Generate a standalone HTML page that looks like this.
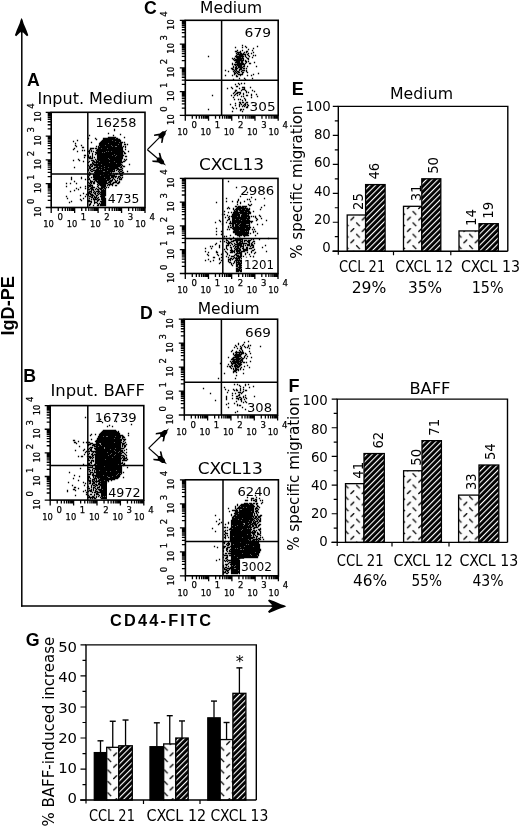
<!DOCTYPE html><html><head><meta charset="utf-8"><style>html,body{margin:0;padding:0;background:#fff;}svg{display:block;}</style></head><body><svg width="520" height="829" viewBox="0 0 520 829">
<defs>
<pattern id="hat" patternUnits="userSpaceOnUse" width="4" height="4" patternTransform="rotate(45)">
<rect width="4" height="4" fill="#000"/><rect x="0" y="0" width="1.1" height="4" fill="#fff"/></pattern>
<pattern id="dsh" patternUnits="userSpaceOnUse" width="11.3" height="11.4">
<rect width="11.3" height="11.4" fill="#fbfbfb"/>
<path d="M0.3 3.8L3.9 0.2M5.9 5.9L9.5 9.6" stroke="#000" stroke-width="1.3" fill="none"/></pattern>
</defs>
<rect width="520" height="829" fill="#fff"/>
<line x1="21.80" y1="30.00" x2="21.80" y2="606.70" stroke="#000" stroke-width="1.5"/>
<line x1="21.10" y1="606.00" x2="276.00" y2="606.00" stroke="#000" stroke-width="1.6"/>
<path d="M21.6 18.0 L22.6 20.1 L23.6 23.5 L25.0 26.8 L26.5 30.2 L28.3 35.2 L27.0 36.3 L22.4 31.8 L22.4 33.0 L20.8 33.0 L20.8 31.8 L16.2 36.3 L14.9 35.2 L16.7 30.2 L18.2 26.8 L19.6 23.5 L20.6 20.1Z" fill="#000"/>
<path d="M286.3 606.2 L284.2 607.2 L280.8 608.2 L277.5 609.6 L274.1 611.1 L269.1 612.9 L268.0 611.6 L272.5 607.0 L271.3 607.0 L271.3 605.4 L272.5 605.4 L268.0 600.8 L269.1 599.5 L274.1 601.3 L277.5 602.8 L280.8 604.2 L284.2 605.2Z" fill="#000"/>
<text transform="translate(13.80,335.60) rotate(-90)" font-size="18" font-family="'Liberation Sans', sans-serif" text-anchor="start" font-weight="bold" textLength="59.5" lengthAdjust="spacingAndGlyphs">IgD-PE</text>
<text x="110.00" y="626.10" font-size="16.3" font-family="'Liberation Sans', sans-serif" text-anchor="start" font-weight="bold" textLength="101" lengthAdjust="spacing">CD44-FITC</text>
<text x="27.10" y="86.40" font-size="17.7" font-family="'Liberation Sans', 'DejaVu Sans', sans-serif" text-anchor="start" font-weight="bold">A</text>
<text x="23.30" y="382.20" font-size="17.7" font-family="'Liberation Sans', 'DejaVu Sans', sans-serif" text-anchor="start" font-weight="bold">B</text>
<text x="144.00" y="14.30" font-size="17.7" font-family="'Liberation Sans', 'DejaVu Sans', sans-serif" text-anchor="start" font-weight="bold">C</text>
<text x="140.10" y="319.40" font-size="17.7" font-family="'Liberation Sans', 'DejaVu Sans', sans-serif" text-anchor="start" font-weight="bold">D</text>
<text x="291.80" y="94.70" font-size="18" font-family="'Liberation Sans', 'DejaVu Sans', sans-serif" text-anchor="start" font-weight="bold">E</text>
<text x="288.60" y="391.80" font-size="18" font-family="'Liberation Sans', 'DejaVu Sans', sans-serif" text-anchor="start" font-weight="bold">F</text>
<text x="25.70" y="645.80" font-size="17.8" font-family="'Liberation Sans', 'DejaVu Sans', sans-serif" text-anchor="start" font-weight="bold">G</text>
<text x="37.50" y="104.30" font-size="16" font-family="'DejaVu Sans', 'Liberation Sans', sans-serif" text-anchor="start" textLength="115.5" lengthAdjust="spacingAndGlyphs">Input. Medium</text>
<text x="50.40" y="395.60" font-size="16" font-family="'DejaVu Sans', 'Liberation Sans', sans-serif" text-anchor="start" textLength="94.5" lengthAdjust="spacingAndGlyphs">Input. BAFF</text>
<text x="200.00" y="13.00" font-size="15.5" font-family="'DejaVu Sans', 'Liberation Sans', sans-serif" text-anchor="start" textLength="62" lengthAdjust="spacingAndGlyphs">Medium</text>
<text x="199.00" y="170.40" font-size="15.5" font-family="'DejaVu Sans', 'Liberation Sans', sans-serif" text-anchor="start" textLength="65" lengthAdjust="spacingAndGlyphs">CXCL13</text>
<text x="197.70" y="314.20" font-size="15.5" font-family="'DejaVu Sans', 'Liberation Sans', sans-serif" text-anchor="start" textLength="62" lengthAdjust="spacingAndGlyphs">Medium</text>
<text x="197.70" y="473.70" font-size="15.5" font-family="'DejaVu Sans', 'Liberation Sans', sans-serif" text-anchor="start" textLength="65" lengthAdjust="spacingAndGlyphs">CXCL13</text>
<line x1="147.40" y1="149.70" x2="159.34" y2="137.64" stroke="#000" stroke-width="1.2"/>
<path d="M167.3 129.6 L165.7 132.3 L165.6 134.3 L163.6 137.2 L162.6 142.7 L161.1 143.0 L161.6 138.3 L159.9 138.5 L158.5 137.1 L158.6 135.4 L154.0 136.0 L154.2 134.4 L159.8 133.4 L162.6 131.3 L164.7 131.2Z" fill="#000"/>
<line x1="147.40" y1="149.70" x2="158.56" y2="159.24" stroke="#000" stroke-width="1.2"/>
<path d="M166.0 165.6 L163.2 164.2 L161.2 164.3 L158.2 162.5 L152.6 161.9 L152.2 160.4 L156.9 160.6 L156.6 158.9 L157.9 157.4 L159.6 157.4 L158.7 152.8 L160.3 152.9 L161.7 158.3 L163.9 161.1 L164.2 163.1Z" fill="#000"/>
<line x1="148.70" y1="448.10" x2="160.88" y2="436.22" stroke="#000" stroke-width="1.2"/>
<path d="M169.0 428.3 L167.4 430.9 L167.2 432.9 L165.2 435.8 L164.1 441.3 L162.5 441.6 L163.2 436.9 L161.5 437.0 L160.1 435.6 L160.2 433.9 L155.6 434.4 L155.9 432.9 L161.4 432.0 L164.3 429.9 L166.3 429.9Z" fill="#000"/>
<line x1="148.70" y1="448.10" x2="159.62" y2="457.82" stroke="#000" stroke-width="1.2"/>
<path d="M166.9 464.3 L164.2 462.9 L162.1 462.9 L159.1 461.0 L153.6 460.3 L153.2 458.8 L157.9 459.1 L157.6 457.4 L159.0 455.9 L160.7 455.9 L159.8 451.3 L161.4 451.5 L162.7 457.0 L164.9 459.7 L165.2 461.7Z" fill="#000"/>
<path d="M122.85 118.85h1.3v1.3h-1.3zM113.85 128.85h1.3v1.3h-1.3zM113.85 129.85h1.3v1.3h-1.3zM107.85 132.85h1.3v1.3h-1.3zM119.85 133.85h1.3v1.3h-1.3zM88.85 134.85h1.3v1.3h-1.3zM112.85 134.85h1.3v1.3h-1.3zM107.85 136.85h8.3v1.3h-8.3zM123.85 136.85h1.3v1.3h-1.3zM87.85 137.85h1.3v1.3h-1.3zM94.85 137.85h1.3v1.3h-1.3zM102.85 137.85h12.3v1.3h-12.3zM115.85 137.85h2.3v1.3h-2.3zM95.85 138.85h1.3v1.3h-1.3zM102.85 138.85h17.3v1.3h-17.3zM76.85 139.85h1.3v1.3h-1.3zM101.85 139.85h10.3v1.3h-10.3zM112.85 139.85h8.3v1.3h-8.3zM72.85 140.85h1.3v1.3h-1.3zM100.85 140.85h14.3v1.3h-14.3zM115.85 140.85h5.3v1.3h-5.3zM90.85 141.85h1.3v1.3h-1.3zM99.85 141.85h19.3v1.3h-19.3zM119.85 141.85h3.3v1.3h-3.3zM123.85 141.85h1.3v1.3h-1.3zM74.85 142.85h1.3v1.3h-1.3zM98.85 142.85h9.3v1.3h-9.3zM108.85 142.85h13.3v1.3h-13.3zM98.85 143.85h19.3v1.3h-19.3zM118.85 143.85h3.3v1.3h-3.3zM123.85 143.85h2.3v1.3h-2.3zM126.85 143.85h1.3v1.3h-1.3zM74.85 144.85h1.3v1.3h-1.3zM80.85 144.85h1.3v1.3h-1.3zM98.85 144.85h6.3v1.3h-6.3zM105.85 144.85h5.3v1.3h-5.3zM111.85 144.85h10.3v1.3h-10.3zM75.85 145.85h1.3v1.3h-1.3zM95.85 145.85h1.3v1.3h-1.3zM97.85 145.85h1.3v1.3h-1.3zM99.85 145.85h12.3v1.3h-12.3zM112.85 145.85h2.3v1.3h-2.3zM116.85 145.85h5.3v1.3h-5.3zM122.85 145.85h1.3v1.3h-1.3zM124.85 145.85h1.3v1.3h-1.3zM81.85 146.85h2.3v1.3h-2.3zM97.85 146.85h25.3v1.3h-25.3zM124.85 146.85h1.3v1.3h-1.3zM73.85 147.85h1.3v1.3h-1.3zM89.85 147.85h4.3v1.3h-4.3zM94.85 147.85h2.3v1.3h-2.3zM97.85 147.85h3.3v1.3h-3.3zM101.85 147.85h5.3v1.3h-5.3zM107.85 147.85h15.3v1.3h-15.3zM72.85 148.85h1.3v1.3h-1.3zM89.85 148.85h1.3v1.3h-1.3zM96.85 148.85h26.3v1.3h-26.3zM124.85 148.85h1.3v1.3h-1.3zM81.85 149.85h1.3v1.3h-1.3zM83.85 149.85h1.3v1.3h-1.3zM88.85 149.85h1.3v1.3h-1.3zM90.85 149.85h1.3v1.3h-1.3zM95.85 149.85h27.3v1.3h-27.3zM76.85 150.85h1.3v1.3h-1.3zM87.85 150.85h2.3v1.3h-2.3zM90.85 150.85h1.3v1.3h-1.3zM92.85 150.85h1.3v1.3h-1.3zM96.85 150.85h9.3v1.3h-9.3zM106.85 150.85h1.3v1.3h-1.3zM108.85 150.85h2.3v1.3h-2.3zM111.85 150.85h12.3v1.3h-12.3zM127.85 150.85h1.3v1.3h-1.3zM88.85 151.85h1.3v1.3h-1.3zM94.85 151.85h7.3v1.3h-7.3zM102.85 151.85h1.3v1.3h-1.3zM104.85 151.85h18.3v1.3h-18.3zM123.85 151.85h1.3v1.3h-1.3zM88.85 152.85h1.3v1.3h-1.3zM91.85 152.85h1.3v1.3h-1.3zM95.85 152.85h27.3v1.3h-27.3zM123.85 152.85h2.3v1.3h-2.3zM91.85 153.85h1.3v1.3h-1.3zM94.85 153.85h1.3v1.3h-1.3zM96.85 153.85h17.3v1.3h-17.3zM114.85 153.85h8.3v1.3h-8.3zM83.85 154.85h2.3v1.3h-2.3zM87.85 154.85h1.3v1.3h-1.3zM91.85 154.85h1.3v1.3h-1.3zM96.85 154.85h15.3v1.3h-15.3zM112.85 154.85h3.3v1.3h-3.3zM116.85 154.85h7.3v1.3h-7.3zM87.85 155.85h1.3v1.3h-1.3zM89.85 155.85h1.3v1.3h-1.3zM91.85 155.85h1.3v1.3h-1.3zM96.85 155.85h18.3v1.3h-18.3zM115.85 155.85h7.3v1.3h-7.3zM124.85 155.85h2.3v1.3h-2.3zM83.85 156.85h1.3v1.3h-1.3zM87.85 156.85h3.3v1.3h-3.3zM91.85 156.85h1.3v1.3h-1.3zM93.85 156.85h1.3v1.3h-1.3zM96.85 156.85h26.3v1.3h-26.3zM88.85 157.85h4.3v1.3h-4.3zM96.85 157.85h11.3v1.3h-11.3zM108.85 157.85h14.3v1.3h-14.3zM77.85 158.85h1.3v1.3h-1.3zM94.85 158.85h1.3v1.3h-1.3zM96.85 158.85h12.3v1.3h-12.3zM109.85 158.85h12.3v1.3h-12.3zM123.85 158.85h1.3v1.3h-1.3zM125.85 158.85h1.3v1.3h-1.3zM72.85 159.85h1.3v1.3h-1.3zM78.85 159.85h1.3v1.3h-1.3zM90.85 159.85h3.3v1.3h-3.3zM95.85 159.85h1.3v1.3h-1.3zM97.85 159.85h24.3v1.3h-24.3zM124.85 159.85h1.3v1.3h-1.3zM82.85 160.85h1.3v1.3h-1.3zM88.85 160.85h1.3v1.3h-1.3zM92.85 160.85h2.3v1.3h-2.3zM95.85 160.85h3.3v1.3h-3.3zM99.85 160.85h14.3v1.3h-14.3zM114.85 160.85h7.3v1.3h-7.3zM122.85 160.85h2.3v1.3h-2.3zM87.85 161.85h1.3v1.3h-1.3zM91.85 161.85h1.3v1.3h-1.3zM93.85 161.85h15.3v1.3h-15.3zM109.85 161.85h13.3v1.3h-13.3zM91.85 162.85h2.3v1.3h-2.3zM95.85 162.85h1.3v1.3h-1.3zM97.85 162.85h18.3v1.3h-18.3zM116.85 162.85h4.3v1.3h-4.3zM89.85 163.85h2.3v1.3h-2.3zM92.85 163.85h8.3v1.3h-8.3zM101.85 163.85h20.3v1.3h-20.3zM128.85 163.85h1.3v1.3h-1.3zM87.85 164.85h1.3v1.3h-1.3zM89.85 164.85h1.3v1.3h-1.3zM91.85 164.85h1.3v1.3h-1.3zM93.85 164.85h27.3v1.3h-27.3zM121.85 164.85h1.3v1.3h-1.3zM88.85 165.85h1.3v1.3h-1.3zM90.85 165.85h2.3v1.3h-2.3zM95.85 165.85h2.3v1.3h-2.3zM98.85 165.85h5.3v1.3h-5.3zM104.85 165.85h15.3v1.3h-15.3zM120.85 165.85h1.3v1.3h-1.3zM122.85 165.85h2.3v1.3h-2.3zM73.85 166.85h1.3v1.3h-1.3zM88.85 166.85h2.3v1.3h-2.3zM93.85 166.85h7.3v1.3h-7.3zM101.85 166.85h6.3v1.3h-6.3zM108.85 166.85h9.3v1.3h-9.3zM119.85 166.85h2.3v1.3h-2.3zM88.85 167.85h2.3v1.3h-2.3zM92.85 167.85h2.3v1.3h-2.3zM96.85 167.85h7.3v1.3h-7.3zM104.85 167.85h14.3v1.3h-14.3zM121.85 167.85h1.3v1.3h-1.3zM87.85 168.85h1.3v1.3h-1.3zM90.85 168.85h2.3v1.3h-2.3zM95.85 168.85h3.3v1.3h-3.3zM99.85 168.85h1.3v1.3h-1.3zM101.85 168.85h13.3v1.3h-13.3zM116.85 168.85h5.3v1.3h-5.3zM87.85 169.85h1.3v1.3h-1.3zM89.85 169.85h1.3v1.3h-1.3zM92.85 169.85h14.3v1.3h-14.3zM107.85 169.85h5.3v1.3h-5.3zM113.85 169.85h1.3v1.3h-1.3zM115.85 169.85h1.3v1.3h-1.3zM118.85 169.85h1.3v1.3h-1.3zM121.85 169.85h1.3v1.3h-1.3zM90.85 170.85h2.3v1.3h-2.3zM94.85 170.85h8.3v1.3h-8.3zM104.85 170.85h10.3v1.3h-10.3zM117.85 170.85h1.3v1.3h-1.3zM119.85 170.85h2.3v1.3h-2.3zM126.85 170.85h1.3v1.3h-1.3zM88.85 171.85h1.3v1.3h-1.3zM93.85 171.85h16.3v1.3h-16.3zM110.85 171.85h1.3v1.3h-1.3zM118.85 171.85h1.3v1.3h-1.3zM121.85 171.85h2.3v1.3h-2.3zM89.85 172.85h1.3v1.3h-1.3zM94.85 172.85h17.3v1.3h-17.3zM112.85 172.85h1.3v1.3h-1.3zM114.85 172.85h3.3v1.3h-3.3zM118.85 172.85h4.3v1.3h-4.3zM87.85 173.85h3.3v1.3h-3.3zM92.85 173.85h10.3v1.3h-10.3zM103.85 173.85h4.3v1.3h-4.3zM108.85 173.85h2.3v1.3h-2.3zM113.85 173.85h1.3v1.3h-1.3zM115.85 173.85h1.3v1.3h-1.3zM119.85 173.85h1.3v1.3h-1.3zM88.85 174.85h1.3v1.3h-1.3zM92.85 174.85h7.3v1.3h-7.3zM100.85 174.85h14.3v1.3h-14.3zM119.85 174.85h3.3v1.3h-3.3zM87.85 175.85h1.3v1.3h-1.3zM92.85 175.85h17.3v1.3h-17.3zM110.85 175.85h6.3v1.3h-6.3zM117.85 175.85h2.3v1.3h-2.3zM70.85 176.85h1.3v1.3h-1.3zM80.85 176.85h1.3v1.3h-1.3zM87.85 176.85h1.3v1.3h-1.3zM90.85 176.85h1.3v1.3h-1.3zM92.85 176.85h11.3v1.3h-11.3zM104.85 176.85h5.3v1.3h-5.3zM110.85 176.85h3.3v1.3h-3.3zM114.85 176.85h1.3v1.3h-1.3zM117.85 176.85h1.3v1.3h-1.3zM119.85 176.85h1.3v1.3h-1.3zM121.85 176.85h1.3v1.3h-1.3zM70.85 177.85h1.3v1.3h-1.3zM80.85 177.85h1.3v1.3h-1.3zM88.85 177.85h1.3v1.3h-1.3zM93.85 177.85h17.3v1.3h-17.3zM112.85 177.85h1.3v1.3h-1.3zM116.85 177.85h1.3v1.3h-1.3zM118.85 177.85h1.3v1.3h-1.3zM120.85 177.85h1.3v1.3h-1.3zM70.85 178.85h1.3v1.3h-1.3zM84.85 178.85h1.3v1.3h-1.3zM87.85 178.85h2.3v1.3h-2.3zM92.85 178.85h13.3v1.3h-13.3zM106.85 178.85h3.3v1.3h-3.3zM111.85 178.85h1.3v1.3h-1.3zM113.85 178.85h1.3v1.3h-1.3zM118.85 178.85h3.3v1.3h-3.3zM89.85 179.85h1.3v1.3h-1.3zM94.85 179.85h2.3v1.3h-2.3zM97.85 179.85h11.3v1.3h-11.3zM109.85 179.85h3.3v1.3h-3.3zM114.85 179.85h1.3v1.3h-1.3zM116.85 179.85h1.3v1.3h-1.3zM73.85 180.85h1.3v1.3h-1.3zM89.85 180.85h3.3v1.3h-3.3zM93.85 180.85h1.3v1.3h-1.3zM95.85 180.85h11.3v1.3h-11.3zM108.85 180.85h3.3v1.3h-3.3zM114.85 180.85h2.3v1.3h-2.3zM118.85 180.85h1.3v1.3h-1.3zM87.85 181.85h1.3v1.3h-1.3zM89.85 181.85h2.3v1.3h-2.3zM92.85 181.85h2.3v1.3h-2.3zM96.85 181.85h10.3v1.3h-10.3zM107.85 181.85h3.3v1.3h-3.3zM112.85 181.85h4.3v1.3h-4.3zM117.85 181.85h2.3v1.3h-2.3zM65.85 182.85h1.3v1.3h-1.3zM69.85 182.85h1.3v1.3h-1.3zM75.85 182.85h1.3v1.3h-1.3zM88.85 182.85h1.3v1.3h-1.3zM90.85 182.85h1.3v1.3h-1.3zM92.85 182.85h2.3v1.3h-2.3zM97.85 182.85h10.3v1.3h-10.3zM109.85 182.85h1.3v1.3h-1.3zM111.85 182.85h2.3v1.3h-2.3zM116.85 182.85h2.3v1.3h-2.3zM89.85 183.85h1.3v1.3h-1.3zM96.85 183.85h1.3v1.3h-1.3zM98.85 183.85h7.3v1.3h-7.3zM107.85 183.85h5.3v1.3h-5.3zM87.85 184.85h5.3v1.3h-5.3zM97.85 184.85h1.3v1.3h-1.3zM99.85 184.85h6.3v1.3h-6.3zM106.85 184.85h1.3v1.3h-1.3zM108.85 184.85h1.3v1.3h-1.3zM111.85 184.85h1.3v1.3h-1.3zM114.85 184.85h2.3v1.3h-2.3zM65.85 185.85h1.3v1.3h-1.3zM84.85 185.85h1.3v1.3h-1.3zM88.85 185.85h2.3v1.3h-2.3zM91.85 185.85h1.3v1.3h-1.3zM96.85 185.85h1.3v1.3h-1.3zM100.85 185.85h5.3v1.3h-5.3zM79.85 186.85h1.3v1.3h-1.3zM87.85 186.85h1.3v1.3h-1.3zM90.85 186.85h4.3v1.3h-4.3zM97.85 186.85h1.3v1.3h-1.3zM100.85 186.85h4.3v1.3h-4.3zM105.85 186.85h1.3v1.3h-1.3zM107.85 186.85h1.3v1.3h-1.3zM75.85 187.85h1.3v1.3h-1.3zM84.85 187.85h1.3v1.3h-1.3zM89.85 187.85h3.3v1.3h-3.3zM95.85 187.85h1.3v1.3h-1.3zM98.85 187.85h4.3v1.3h-4.3zM103.85 187.85h2.3v1.3h-2.3zM77.85 188.85h1.3v1.3h-1.3zM87.85 188.85h2.3v1.3h-2.3zM90.85 188.85h3.3v1.3h-3.3zM94.85 188.85h1.3v1.3h-1.3zM96.85 188.85h2.3v1.3h-2.3zM99.85 188.85h2.3v1.3h-2.3zM102.85 188.85h1.3v1.3h-1.3zM104.85 188.85h1.3v1.3h-1.3zM73.85 189.85h1.3v1.3h-1.3zM90.85 189.85h1.3v1.3h-1.3zM92.85 189.85h1.3v1.3h-1.3zM97.85 189.85h1.3v1.3h-1.3zM100.85 189.85h5.3v1.3h-5.3zM69.85 190.85h1.3v1.3h-1.3zM88.85 190.85h3.3v1.3h-3.3zM93.85 190.85h1.3v1.3h-1.3zM95.85 190.85h4.3v1.3h-4.3zM100.85 190.85h5.3v1.3h-5.3zM87.85 191.85h2.3v1.3h-2.3zM90.85 191.85h1.3v1.3h-1.3zM92.85 191.85h1.3v1.3h-1.3zM94.85 191.85h1.3v1.3h-1.3zM97.85 191.85h1.3v1.3h-1.3zM99.85 191.85h6.3v1.3h-6.3zM82.85 192.85h1.3v1.3h-1.3zM87.85 192.85h3.3v1.3h-3.3zM93.85 192.85h2.3v1.3h-2.3zM96.85 192.85h1.3v1.3h-1.3zM98.85 192.85h1.3v1.3h-1.3zM100.85 192.85h5.3v1.3h-5.3zM85.85 193.85h1.3v1.3h-1.3zM87.85 193.85h1.3v1.3h-1.3zM89.85 193.85h3.3v1.3h-3.3zM94.85 193.85h1.3v1.3h-1.3zM97.85 193.85h1.3v1.3h-1.3zM99.85 193.85h6.3v1.3h-6.3zM79.85 194.85h1.3v1.3h-1.3zM87.85 194.85h1.3v1.3h-1.3zM90.85 194.85h3.3v1.3h-3.3zM95.85 194.85h2.3v1.3h-2.3zM100.85 194.85h5.3v1.3h-5.3zM65.85 195.85h1.3v1.3h-1.3zM84.85 195.85h1.3v1.3h-1.3zM88.85 195.85h2.3v1.3h-2.3zM91.85 195.85h1.3v1.3h-1.3zM93.85 195.85h1.3v1.3h-1.3zM95.85 195.85h1.3v1.3h-1.3zM99.85 195.85h5.3v1.3h-5.3zM90.85 196.85h2.3v1.3h-2.3zM93.85 196.85h3.3v1.3h-3.3zM97.85 196.85h1.3v1.3h-1.3zM100.85 196.85h4.3v1.3h-4.3zM66.85 197.85h1.3v1.3h-1.3zM82.85 197.85h1.3v1.3h-1.3zM88.85 197.85h1.3v1.3h-1.3zM92.85 197.85h1.3v1.3h-1.3zM94.85 197.85h1.3v1.3h-1.3zM96.85 197.85h1.3v1.3h-1.3zM100.85 197.85h5.3v1.3h-5.3zM79.85 198.85h1.3v1.3h-1.3zM90.85 198.85h1.3v1.3h-1.3zM92.85 198.85h4.3v1.3h-4.3zM97.85 198.85h2.3v1.3h-2.3zM100.85 198.85h5.3v1.3h-5.3zM80.85 199.85h1.3v1.3h-1.3zM87.85 199.85h2.3v1.3h-2.3zM93.85 199.85h1.3v1.3h-1.3zM96.85 199.85h2.3v1.3h-2.3zM101.85 199.85h4.3v1.3h-4.3zM70.85 200.85h1.3v1.3h-1.3zM87.85 200.85h4.3v1.3h-4.3zM93.85 200.85h1.3v1.3h-1.3zM96.85 200.85h1.3v1.3h-1.3zM99.85 200.85h6.3v1.3h-6.3zM68.85 201.85h1.3v1.3h-1.3zM90.85 201.85h1.3v1.3h-1.3zM93.85 201.85h3.3v1.3h-3.3zM100.85 201.85h5.3v1.3h-5.3zM89.85 202.85h1.3v1.3h-1.3zM93.85 202.85h1.3v1.3h-1.3zM96.85 202.85h1.3v1.3h-1.3zM98.85 202.85h1.3v1.3h-1.3zM100.85 202.85h5.3v1.3h-5.3zM88.85 203.85h2.3v1.3h-2.3zM97.85 203.85h1.3v1.3h-1.3zM99.85 203.85h6.3v1.3h-6.3zM88.85 204.85h1.3v1.3h-1.3zM92.85 204.85h1.3v1.3h-1.3zM96.85 204.85h2.3v1.3h-2.3zM99.85 204.85h6.3v1.3h-6.3z" fill="#000"/>
<rect x="106.90" y="188.60" width="37.40" height="18.20" fill="#fff"/>
<rect x="51.20" y="112.30" width="93.80" height="95.20" fill="none" stroke="#000" stroke-width="1.6"/>
<line x1="87.80" y1="112.30" x2="87.80" y2="207.50" stroke="#000" stroke-width="1.5"/>
<line x1="51.20" y1="173.90" x2="145.00" y2="173.90" stroke="#000" stroke-width="1.5"/>
<path d="M51.20 207.50h-5.5M51.20 207.50v5.5M51.20 200.34h-3.5M58.26 207.50v3.5M51.20 196.14h-3.5M62.39 207.50v3.5M51.20 193.17h-3.5M65.32 207.50v3.5M51.20 190.86h-3.5M67.59 207.50v3.5M51.20 188.98h-3.5M69.45 207.50v3.5M51.20 187.39h-3.5M71.02 207.50v3.5M51.20 186.01h-3.5M72.38 207.50v3.5M51.20 184.79h-3.5M73.58 207.50v3.5M51.20 183.70h-5.5M74.65 207.50v5.5M51.20 176.54h-3.5M81.71 207.50v3.5M51.20 172.34h-3.5M85.84 207.50v3.5M51.20 169.37h-3.5M88.77 207.50v3.5M51.20 167.06h-3.5M91.04 207.50v3.5M51.20 165.18h-3.5M92.90 207.50v3.5M51.20 163.59h-3.5M94.47 207.50v3.5M51.20 162.21h-3.5M95.83 207.50v3.5M51.20 160.99h-3.5M97.03 207.50v3.5M51.20 159.90h-5.5M98.10 207.50v5.5M51.20 152.74h-3.5M105.16 207.50v3.5M51.20 148.54h-3.5M109.29 207.50v3.5M51.20 145.57h-3.5M112.22 207.50v3.5M51.20 143.26h-3.5M114.49 207.50v3.5M51.20 141.38h-3.5M116.35 207.50v3.5M51.20 139.79h-3.5M117.92 207.50v3.5M51.20 138.41h-3.5M119.28 207.50v3.5M51.20 137.19h-3.5M120.48 207.50v3.5M51.20 136.10h-5.5M121.55 207.50v5.5M51.20 128.94h-3.5M128.61 207.50v3.5M51.20 124.74h-3.5M132.74 207.50v3.5M51.20 121.77h-3.5M135.67 207.50v3.5M51.20 119.46h-3.5M137.94 207.50v3.5M51.20 117.58h-3.5M139.80 207.50v3.5M51.20 115.99h-3.5M141.37 207.50v3.5M51.20 114.61h-3.5M142.73 207.50v3.5M51.20 113.39h-3.5M143.93 207.50v3.5M51.20 112.30h-5.5M145.00 207.50v5.5" stroke="#000" stroke-width="1.3" fill="none"/>
<text x="43.20" y="227.30" font-size="9.5" font-family="'DejaVu Sans', 'Liberation Sans', sans-serif" text-anchor="start" textLength="10.6" lengthAdjust="spacingAndGlyphs" stroke="#000" stroke-width="0.25">10</text>
<text x="57.40" y="220.10" font-size="8.5" font-family="'DejaVu Sans', 'Liberation Sans', sans-serif" text-anchor="start" stroke="#000" stroke-width="0.25">0</text>
<text transform="translate(40.70,217.10) rotate(-90)" font-size="9.5" font-family="'DejaVu Sans', 'Liberation Sans', sans-serif" text-anchor="start" textLength="10.6" lengthAdjust="spacingAndGlyphs" stroke="#000" stroke-width="0.25">10</text>
<text transform="translate(33.50,203.90) rotate(-90)" font-size="8.5" font-family="'DejaVu Sans', 'Liberation Sans', sans-serif" text-anchor="start" stroke="#000" stroke-width="0.25">0</text>
<text x="66.65" y="227.30" font-size="9.5" font-family="'DejaVu Sans', 'Liberation Sans', sans-serif" text-anchor="start" textLength="10.6" lengthAdjust="spacingAndGlyphs" stroke="#000" stroke-width="0.25">10</text>
<text x="80.85" y="220.10" font-size="8.5" font-family="'DejaVu Sans', 'Liberation Sans', sans-serif" text-anchor="start" stroke="#000" stroke-width="0.25">1</text>
<text transform="translate(40.70,193.30) rotate(-90)" font-size="9.5" font-family="'DejaVu Sans', 'Liberation Sans', sans-serif" text-anchor="start" textLength="10.6" lengthAdjust="spacingAndGlyphs" stroke="#000" stroke-width="0.25">10</text>
<text transform="translate(33.50,180.10) rotate(-90)" font-size="8.5" font-family="'DejaVu Sans', 'Liberation Sans', sans-serif" text-anchor="start" stroke="#000" stroke-width="0.25">1</text>
<text x="90.10" y="227.30" font-size="9.5" font-family="'DejaVu Sans', 'Liberation Sans', sans-serif" text-anchor="start" textLength="10.6" lengthAdjust="spacingAndGlyphs" stroke="#000" stroke-width="0.25">10</text>
<text x="104.30" y="220.10" font-size="8.5" font-family="'DejaVu Sans', 'Liberation Sans', sans-serif" text-anchor="start" stroke="#000" stroke-width="0.25">2</text>
<text transform="translate(40.70,169.50) rotate(-90)" font-size="9.5" font-family="'DejaVu Sans', 'Liberation Sans', sans-serif" text-anchor="start" textLength="10.6" lengthAdjust="spacingAndGlyphs" stroke="#000" stroke-width="0.25">10</text>
<text transform="translate(33.50,156.30) rotate(-90)" font-size="8.5" font-family="'DejaVu Sans', 'Liberation Sans', sans-serif" text-anchor="start" stroke="#000" stroke-width="0.25">2</text>
<text x="113.55" y="227.30" font-size="9.5" font-family="'DejaVu Sans', 'Liberation Sans', sans-serif" text-anchor="start" textLength="10.6" lengthAdjust="spacingAndGlyphs" stroke="#000" stroke-width="0.25">10</text>
<text x="127.75" y="220.10" font-size="8.5" font-family="'DejaVu Sans', 'Liberation Sans', sans-serif" text-anchor="start" stroke="#000" stroke-width="0.25">3</text>
<text transform="translate(40.70,145.70) rotate(-90)" font-size="9.5" font-family="'DejaVu Sans', 'Liberation Sans', sans-serif" text-anchor="start" textLength="10.6" lengthAdjust="spacingAndGlyphs" stroke="#000" stroke-width="0.25">10</text>
<text transform="translate(33.50,132.50) rotate(-90)" font-size="8.5" font-family="'DejaVu Sans', 'Liberation Sans', sans-serif" text-anchor="start" stroke="#000" stroke-width="0.25">3</text>
<text x="135.20" y="227.30" font-size="9.5" font-family="'DejaVu Sans', 'Liberation Sans', sans-serif" text-anchor="start" textLength="10.6" lengthAdjust="spacingAndGlyphs" stroke="#000" stroke-width="0.25">10</text>
<text x="149.40" y="220.10" font-size="8.5" font-family="'DejaVu Sans', 'Liberation Sans', sans-serif" text-anchor="start" stroke="#000" stroke-width="0.25">4</text>
<text transform="translate(40.70,121.90) rotate(-90)" font-size="9.5" font-family="'DejaVu Sans', 'Liberation Sans', sans-serif" text-anchor="start" textLength="10.6" lengthAdjust="spacingAndGlyphs" stroke="#000" stroke-width="0.25">10</text>
<text transform="translate(33.50,108.70) rotate(-90)" font-size="8.5" font-family="'DejaVu Sans', 'Liberation Sans', sans-serif" text-anchor="start" stroke="#000" stroke-width="0.25">4</text>
<text x="95.50" y="126.60" font-size="13" font-family="'DejaVu Sans', 'Liberation Sans', sans-serif" text-anchor="start" textLength="41" lengthAdjust="spacingAndGlyphs">16258</text>
<text x="107.80" y="202.50" font-size="13" font-family="'DejaVu Sans', 'Liberation Sans', sans-serif" text-anchor="start" textLength="31.5" lengthAdjust="spacingAndGlyphs">4735</text>
<path d="M117.85 413.85h1.3v1.3h-1.3zM84.85 416.85h1.3v1.3h-1.3zM99.85 418.85h1.3v1.3h-1.3zM104.85 419.85h1.3v1.3h-1.3zM115.85 420.85h1.3v1.3h-1.3zM101.85 421.85h1.3v1.3h-1.3zM130.85 423.85h1.3v1.3h-1.3zM108.85 424.85h1.3v1.3h-1.3zM106.85 425.85h1.3v1.3h-1.3zM111.85 425.85h1.3v1.3h-1.3zM102.85 429.85h13.3v1.3h-13.3zM101.85 430.85h15.3v1.3h-15.3zM117.85 430.85h1.3v1.3h-1.3zM100.85 431.85h18.3v1.3h-18.3zM99.85 432.85h20.3v1.3h-20.3zM127.85 432.85h1.3v1.3h-1.3zM90.85 433.85h1.3v1.3h-1.3zM94.85 433.85h1.3v1.3h-1.3zM98.85 433.85h21.3v1.3h-21.3zM89.85 434.85h1.3v1.3h-1.3zM98.85 434.85h24.3v1.3h-24.3zM127.85 434.85h1.3v1.3h-1.3zM97.85 435.85h5.3v1.3h-5.3zM103.85 435.85h2.3v1.3h-2.3zM107.85 435.85h7.3v1.3h-7.3zM115.85 435.85h5.3v1.3h-5.3zM121.85 435.85h2.3v1.3h-2.3zM97.85 436.85h23.3v1.3h-23.3zM121.85 436.85h3.3v1.3h-3.3zM96.85 437.85h17.3v1.3h-17.3zM114.85 437.85h5.3v1.3h-5.3zM121.85 437.85h1.3v1.3h-1.3zM90.85 438.85h1.3v1.3h-1.3zM96.85 438.85h25.3v1.3h-25.3zM122.85 438.85h3.3v1.3h-3.3zM72.85 439.85h2.3v1.3h-2.3zM95.85 439.85h26.3v1.3h-26.3zM123.85 439.85h1.3v1.3h-1.3zM77.85 440.85h1.3v1.3h-1.3zM94.85 440.85h26.3v1.3h-26.3zM122.85 440.85h1.3v1.3h-1.3zM73.85 441.85h2.3v1.3h-2.3zM82.85 441.85h1.3v1.3h-1.3zM85.85 441.85h1.3v1.3h-1.3zM87.85 441.85h2.3v1.3h-2.3zM95.85 441.85h18.3v1.3h-18.3zM114.85 441.85h7.3v1.3h-7.3zM124.85 441.85h1.3v1.3h-1.3zM75.85 442.85h1.3v1.3h-1.3zM89.85 442.85h3.3v1.3h-3.3zM95.85 442.85h3.3v1.3h-3.3zM100.85 442.85h20.3v1.3h-20.3zM121.85 442.85h3.3v1.3h-3.3zM87.85 443.85h3.3v1.3h-3.3zM92.85 443.85h7.3v1.3h-7.3zM100.85 443.85h20.3v1.3h-20.3zM121.85 443.85h2.3v1.3h-2.3zM125.85 443.85h1.3v1.3h-1.3zM87.85 444.85h1.3v1.3h-1.3zM91.85 444.85h3.3v1.3h-3.3zM95.85 444.85h5.3v1.3h-5.3zM101.85 444.85h19.3v1.3h-19.3zM121.85 444.85h1.3v1.3h-1.3zM123.85 444.85h2.3v1.3h-2.3zM78.85 445.85h1.3v1.3h-1.3zM93.85 445.85h4.3v1.3h-4.3zM98.85 445.85h22.3v1.3h-22.3zM121.85 445.85h1.3v1.3h-1.3zM123.85 445.85h2.3v1.3h-2.3zM89.85 446.85h3.3v1.3h-3.3zM95.85 446.85h8.3v1.3h-8.3zM104.85 446.85h16.3v1.3h-16.3zM123.85 446.85h1.3v1.3h-1.3zM88.85 447.85h1.3v1.3h-1.3zM90.85 447.85h1.3v1.3h-1.3zM93.85 447.85h10.3v1.3h-10.3zM104.85 447.85h10.3v1.3h-10.3zM115.85 447.85h8.3v1.3h-8.3zM83.85 448.85h1.3v1.3h-1.3zM87.85 448.85h1.3v1.3h-1.3zM89.85 448.85h2.3v1.3h-2.3zM94.85 448.85h15.3v1.3h-15.3zM110.85 448.85h10.3v1.3h-10.3zM125.85 448.85h1.3v1.3h-1.3zM74.85 449.85h1.3v1.3h-1.3zM82.85 449.85h1.3v1.3h-1.3zM89.85 449.85h2.3v1.3h-2.3zM95.85 449.85h18.3v1.3h-18.3zM114.85 449.85h8.3v1.3h-8.3zM123.85 449.85h1.3v1.3h-1.3zM85.85 450.85h1.3v1.3h-1.3zM87.85 450.85h2.3v1.3h-2.3zM90.85 450.85h24.3v1.3h-24.3zM115.85 450.85h3.3v1.3h-3.3zM119.85 450.85h3.3v1.3h-3.3zM84.85 451.85h1.3v1.3h-1.3zM92.85 451.85h1.3v1.3h-1.3zM94.85 451.85h12.3v1.3h-12.3zM107.85 451.85h10.3v1.3h-10.3zM118.85 451.85h2.3v1.3h-2.3zM121.85 451.85h2.3v1.3h-2.3zM125.85 451.85h1.3v1.3h-1.3zM88.85 452.85h1.3v1.3h-1.3zM91.85 452.85h1.3v1.3h-1.3zM95.85 452.85h15.3v1.3h-15.3zM111.85 452.85h10.3v1.3h-10.3zM123.85 452.85h1.3v1.3h-1.3zM83.85 453.85h1.3v1.3h-1.3zM87.85 453.85h1.3v1.3h-1.3zM90.85 453.85h2.3v1.3h-2.3zM93.85 453.85h16.3v1.3h-16.3zM110.85 453.85h4.3v1.3h-4.3zM115.85 453.85h5.3v1.3h-5.3zM124.85 453.85h1.3v1.3h-1.3zM91.85 454.85h2.3v1.3h-2.3zM94.85 454.85h13.3v1.3h-13.3zM108.85 454.85h5.3v1.3h-5.3zM114.85 454.85h9.3v1.3h-9.3zM125.85 454.85h1.3v1.3h-1.3zM77.85 455.85h1.3v1.3h-1.3zM80.85 455.85h2.3v1.3h-2.3zM86.85 455.85h4.3v1.3h-4.3zM91.85 455.85h1.3v1.3h-1.3zM94.85 455.85h26.3v1.3h-26.3zM122.85 455.85h2.3v1.3h-2.3zM88.85 456.85h3.3v1.3h-3.3zM92.85 456.85h1.3v1.3h-1.3zM94.85 456.85h17.3v1.3h-17.3zM112.85 456.85h8.3v1.3h-8.3zM121.85 456.85h1.3v1.3h-1.3zM123.85 456.85h1.3v1.3h-1.3zM125.85 456.85h1.3v1.3h-1.3zM87.85 457.85h1.3v1.3h-1.3zM89.85 457.85h1.3v1.3h-1.3zM91.85 457.85h1.3v1.3h-1.3zM94.85 457.85h27.3v1.3h-27.3zM122.85 457.85h4.3v1.3h-4.3zM87.85 458.85h1.3v1.3h-1.3zM94.85 458.85h10.3v1.3h-10.3zM105.85 458.85h15.3v1.3h-15.3zM122.85 458.85h2.3v1.3h-2.3zM126.85 458.85h1.3v1.3h-1.3zM87.85 459.85h2.3v1.3h-2.3zM90.85 459.85h3.3v1.3h-3.3zM94.85 459.85h26.3v1.3h-26.3zM121.85 459.85h5.3v1.3h-5.3zM90.85 460.85h1.3v1.3h-1.3zM92.85 460.85h1.3v1.3h-1.3zM94.85 460.85h26.3v1.3h-26.3zM89.85 461.85h2.3v1.3h-2.3zM94.85 461.85h26.3v1.3h-26.3zM121.85 461.85h1.3v1.3h-1.3zM87.85 462.85h2.3v1.3h-2.3zM90.85 462.85h1.3v1.3h-1.3zM94.85 462.85h28.3v1.3h-28.3zM123.85 462.85h1.3v1.3h-1.3zM82.85 463.85h1.3v1.3h-1.3zM87.85 463.85h2.3v1.3h-2.3zM93.85 463.85h2.3v1.3h-2.3zM96.85 463.85h21.3v1.3h-21.3zM118.85 463.85h2.3v1.3h-2.3zM122.85 463.85h2.3v1.3h-2.3zM89.85 464.85h1.3v1.3h-1.3zM94.85 464.85h13.3v1.3h-13.3zM108.85 464.85h12.3v1.3h-12.3zM122.85 464.85h1.3v1.3h-1.3zM91.85 465.85h1.3v1.3h-1.3zM94.85 465.85h9.3v1.3h-9.3zM104.85 465.85h17.3v1.3h-17.3zM87.85 466.85h5.3v1.3h-5.3zM94.85 466.85h27.3v1.3h-27.3zM126.85 466.85h1.3v1.3h-1.3zM79.85 467.85h1.3v1.3h-1.3zM92.85 467.85h29.3v1.3h-29.3zM87.85 468.85h2.3v1.3h-2.3zM91.85 468.85h1.3v1.3h-1.3zM94.85 468.85h27.3v1.3h-27.3zM89.85 469.85h1.3v1.3h-1.3zM91.85 469.85h1.3v1.3h-1.3zM93.85 469.85h1.3v1.3h-1.3zM95.85 469.85h3.3v1.3h-3.3zM99.85 469.85h16.3v1.3h-16.3zM116.85 469.85h5.3v1.3h-5.3zM88.85 470.85h1.3v1.3h-1.3zM93.85 470.85h1.3v1.3h-1.3zM95.85 470.85h10.3v1.3h-10.3zM106.85 470.85h3.3v1.3h-3.3zM110.85 470.85h11.3v1.3h-11.3zM68.85 471.85h1.3v1.3h-1.3zM89.85 471.85h3.3v1.3h-3.3zM93.85 471.85h28.3v1.3h-28.3zM122.85 471.85h1.3v1.3h-1.3zM89.85 472.85h1.3v1.3h-1.3zM92.85 472.85h1.3v1.3h-1.3zM95.85 472.85h22.3v1.3h-22.3zM118.85 472.85h1.3v1.3h-1.3zM120.85 472.85h1.3v1.3h-1.3zM87.85 473.85h3.3v1.3h-3.3zM91.85 473.85h2.3v1.3h-2.3zM95.85 473.85h21.3v1.3h-21.3zM117.85 473.85h3.3v1.3h-3.3zM73.85 474.85h1.3v1.3h-1.3zM91.85 474.85h11.3v1.3h-11.3zM103.85 474.85h12.3v1.3h-12.3zM116.85 474.85h3.3v1.3h-3.3zM78.85 475.85h1.3v1.3h-1.3zM87.85 475.85h2.3v1.3h-2.3zM92.85 475.85h1.3v1.3h-1.3zM94.85 475.85h12.3v1.3h-12.3zM107.85 475.85h4.3v1.3h-4.3zM112.85 475.85h7.3v1.3h-7.3zM87.85 476.85h2.3v1.3h-2.3zM92.85 476.85h1.3v1.3h-1.3zM94.85 476.85h1.3v1.3h-1.3zM96.85 476.85h11.3v1.3h-11.3zM109.85 476.85h9.3v1.3h-9.3zM122.85 476.85h1.3v1.3h-1.3zM72.85 477.85h1.3v1.3h-1.3zM87.85 477.85h1.3v1.3h-1.3zM89.85 477.85h1.3v1.3h-1.3zM93.85 477.85h3.3v1.3h-3.3zM97.85 477.85h1.3v1.3h-1.3zM99.85 477.85h18.3v1.3h-18.3zM87.85 478.85h1.3v1.3h-1.3zM91.85 478.85h3.3v1.3h-3.3zM95.85 478.85h1.3v1.3h-1.3zM98.85 478.85h16.3v1.3h-16.3zM77.85 479.85h1.3v1.3h-1.3zM87.85 479.85h3.3v1.3h-3.3zM91.85 479.85h1.3v1.3h-1.3zM93.85 479.85h1.3v1.3h-1.3zM95.85 479.85h1.3v1.3h-1.3zM97.85 479.85h6.3v1.3h-6.3zM104.85 479.85h4.3v1.3h-4.3zM110.85 479.85h1.3v1.3h-1.3zM88.85 480.85h2.3v1.3h-2.3zM91.85 480.85h2.3v1.3h-2.3zM94.85 480.85h5.3v1.3h-5.3zM100.85 480.85h6.3v1.3h-6.3zM107.85 480.85h1.3v1.3h-1.3zM67.85 481.85h1.3v1.3h-1.3zM82.85 481.85h1.3v1.3h-1.3zM89.85 481.85h1.3v1.3h-1.3zM92.85 481.85h2.3v1.3h-2.3zM95.85 481.85h1.3v1.3h-1.3zM98.85 481.85h8.3v1.3h-8.3zM84.85 482.85h1.3v1.3h-1.3zM88.85 482.85h2.3v1.3h-2.3zM91.85 482.85h3.3v1.3h-3.3zM97.85 482.85h2.3v1.3h-2.3zM100.85 482.85h6.3v1.3h-6.3zM91.85 483.85h1.3v1.3h-1.3zM94.85 483.85h2.3v1.3h-2.3zM97.85 483.85h9.3v1.3h-9.3zM71.85 484.85h1.3v1.3h-1.3zM83.85 484.85h1.3v1.3h-1.3zM90.85 484.85h1.3v1.3h-1.3zM92.85 484.85h2.3v1.3h-2.3zM95.85 484.85h2.3v1.3h-2.3zM99.85 484.85h7.3v1.3h-7.3zM87.85 485.85h1.3v1.3h-1.3zM90.85 485.85h1.3v1.3h-1.3zM94.85 485.85h1.3v1.3h-1.3zM98.85 485.85h1.3v1.3h-1.3zM100.85 485.85h6.3v1.3h-6.3zM73.85 486.85h2.3v1.3h-2.3zM86.85 486.85h1.3v1.3h-1.3zM90.85 486.85h1.3v1.3h-1.3zM92.85 486.85h2.3v1.3h-2.3zM96.85 486.85h3.3v1.3h-3.3zM100.85 486.85h6.3v1.3h-6.3zM77.85 487.85h1.3v1.3h-1.3zM87.85 487.85h2.3v1.3h-2.3zM92.85 487.85h1.3v1.3h-1.3zM94.85 487.85h1.3v1.3h-1.3zM96.85 487.85h1.3v1.3h-1.3zM100.85 487.85h6.3v1.3h-6.3zM72.85 488.85h2.3v1.3h-2.3zM90.85 488.85h1.3v1.3h-1.3zM92.85 488.85h1.3v1.3h-1.3zM95.85 488.85h1.3v1.3h-1.3zM97.85 488.85h4.3v1.3h-4.3zM102.85 488.85h4.3v1.3h-4.3zM66.85 489.85h1.3v1.3h-1.3zM74.85 489.85h1.3v1.3h-1.3zM84.85 489.85h1.3v1.3h-1.3zM88.85 489.85h3.3v1.3h-3.3zM92.85 489.85h1.3v1.3h-1.3zM94.85 489.85h1.3v1.3h-1.3zM98.85 489.85h8.3v1.3h-8.3zM66.85 490.85h1.3v1.3h-1.3zM82.85 490.85h1.3v1.3h-1.3zM87.85 490.85h1.3v1.3h-1.3zM89.85 490.85h2.3v1.3h-2.3zM94.85 490.85h3.3v1.3h-3.3zM99.85 490.85h7.3v1.3h-7.3zM85.85 491.85h1.3v1.3h-1.3zM91.85 491.85h1.3v1.3h-1.3zM93.85 491.85h2.3v1.3h-2.3zM96.85 491.85h10.3v1.3h-10.3zM95.85 492.85h2.3v1.3h-2.3zM100.85 492.85h6.3v1.3h-6.3zM85.85 493.85h1.3v1.3h-1.3zM89.85 493.85h2.3v1.3h-2.3zM93.85 493.85h1.3v1.3h-1.3zM95.85 493.85h3.3v1.3h-3.3zM100.85 493.85h6.3v1.3h-6.3zM74.85 494.85h1.3v1.3h-1.3zM87.85 494.85h1.3v1.3h-1.3zM93.85 494.85h1.3v1.3h-1.3zM98.85 494.85h1.3v1.3h-1.3zM100.85 494.85h6.3v1.3h-6.3zM88.85 495.85h1.3v1.3h-1.3zM91.85 495.85h2.3v1.3h-2.3zM95.85 495.85h1.3v1.3h-1.3zM97.85 495.85h1.3v1.3h-1.3zM100.85 495.85h2.3v1.3h-2.3zM103.85 495.85h1.3v1.3h-1.3zM105.85 495.85h1.3v1.3h-1.3zM87.85 496.85h7.3v1.3h-7.3zM95.85 496.85h1.3v1.3h-1.3zM99.85 496.85h1.3v1.3h-1.3zM101.85 496.85h5.3v1.3h-5.3zM89.85 497.85h1.3v1.3h-1.3zM91.85 497.85h1.3v1.3h-1.3zM93.85 497.85h2.3v1.3h-2.3zM100.85 497.85h6.3v1.3h-6.3z" fill="#000"/>
<rect x="107.00" y="483.60" width="36.10" height="15.80" fill="#fff"/>
<rect x="50.20" y="405.60" width="93.60" height="94.50" fill="none" stroke="#000" stroke-width="1.6"/>
<line x1="87.80" y1="405.60" x2="87.80" y2="500.10" stroke="#000" stroke-width="1.5"/>
<line x1="50.20" y1="465.50" x2="143.80" y2="465.50" stroke="#000" stroke-width="1.5"/>
<path d="M50.20 500.10h-5.5M50.20 500.10v5.5M50.20 492.99h-3.5M57.24 500.10v3.5M50.20 488.83h-3.5M61.36 500.10v3.5M50.20 485.88h-3.5M64.29 500.10v3.5M50.20 483.59h-3.5M66.56 500.10v3.5M50.20 481.72h-3.5M68.41 500.10v3.5M50.20 480.13h-3.5M69.98 500.10v3.5M50.20 478.76h-3.5M71.33 500.10v3.5M50.20 477.56h-3.5M72.53 500.10v3.5M50.20 476.48h-5.5M73.60 500.10v5.5M50.20 469.36h-3.5M80.64 500.10v3.5M50.20 465.20h-3.5M84.76 500.10v3.5M50.20 462.25h-3.5M87.69 500.10v3.5M50.20 459.96h-3.5M89.96 500.10v3.5M50.20 458.09h-3.5M91.81 500.10v3.5M50.20 456.51h-3.5M93.38 500.10v3.5M50.20 455.14h-3.5M94.73 500.10v3.5M50.20 453.93h-3.5M95.93 500.10v3.5M50.20 452.85h-5.5M97.00 500.10v5.5M50.20 445.74h-3.5M104.04 500.10v3.5M50.20 441.58h-3.5M108.16 500.10v3.5M50.20 438.63h-3.5M111.09 500.10v3.5M50.20 436.34h-3.5M113.36 500.10v3.5M50.20 434.47h-3.5M115.21 500.10v3.5M50.20 432.88h-3.5M116.78 500.10v3.5M50.20 431.51h-3.5M118.13 500.10v3.5M50.20 430.31h-3.5M119.33 500.10v3.5M50.20 429.23h-5.5M120.40 500.10v5.5M50.20 422.11h-3.5M127.44 500.10v3.5M50.20 417.95h-3.5M131.56 500.10v3.5M50.20 415.00h-3.5M134.49 500.10v3.5M50.20 412.71h-3.5M136.76 500.10v3.5M50.20 410.84h-3.5M138.61 500.10v3.5M50.20 409.26h-3.5M140.18 500.10v3.5M50.20 407.89h-3.5M141.53 500.10v3.5M50.20 406.68h-3.5M142.73 500.10v3.5M50.20 405.60h-5.5M143.80 500.10v5.5" stroke="#000" stroke-width="1.3" fill="none"/>
<text x="42.20" y="519.90" font-size="9.5" font-family="'DejaVu Sans', 'Liberation Sans', sans-serif" text-anchor="start" textLength="10.6" lengthAdjust="spacingAndGlyphs" stroke="#000" stroke-width="0.25">10</text>
<text x="56.40" y="512.70" font-size="8.5" font-family="'DejaVu Sans', 'Liberation Sans', sans-serif" text-anchor="start" stroke="#000" stroke-width="0.25">0</text>
<text transform="translate(39.70,509.70) rotate(-90)" font-size="9.5" font-family="'DejaVu Sans', 'Liberation Sans', sans-serif" text-anchor="start" textLength="10.6" lengthAdjust="spacingAndGlyphs" stroke="#000" stroke-width="0.25">10</text>
<text transform="translate(32.50,496.50) rotate(-90)" font-size="8.5" font-family="'DejaVu Sans', 'Liberation Sans', sans-serif" text-anchor="start" stroke="#000" stroke-width="0.25">0</text>
<text x="65.60" y="519.90" font-size="9.5" font-family="'DejaVu Sans', 'Liberation Sans', sans-serif" text-anchor="start" textLength="10.6" lengthAdjust="spacingAndGlyphs" stroke="#000" stroke-width="0.25">10</text>
<text x="79.80" y="512.70" font-size="8.5" font-family="'DejaVu Sans', 'Liberation Sans', sans-serif" text-anchor="start" stroke="#000" stroke-width="0.25">1</text>
<text transform="translate(39.70,486.08) rotate(-90)" font-size="9.5" font-family="'DejaVu Sans', 'Liberation Sans', sans-serif" text-anchor="start" textLength="10.6" lengthAdjust="spacingAndGlyphs" stroke="#000" stroke-width="0.25">10</text>
<text transform="translate(32.50,472.88) rotate(-90)" font-size="8.5" font-family="'DejaVu Sans', 'Liberation Sans', sans-serif" text-anchor="start" stroke="#000" stroke-width="0.25">1</text>
<text x="89.00" y="519.90" font-size="9.5" font-family="'DejaVu Sans', 'Liberation Sans', sans-serif" text-anchor="start" textLength="10.6" lengthAdjust="spacingAndGlyphs" stroke="#000" stroke-width="0.25">10</text>
<text x="103.20" y="512.70" font-size="8.5" font-family="'DejaVu Sans', 'Liberation Sans', sans-serif" text-anchor="start" stroke="#000" stroke-width="0.25">2</text>
<text transform="translate(39.70,462.45) rotate(-90)" font-size="9.5" font-family="'DejaVu Sans', 'Liberation Sans', sans-serif" text-anchor="start" textLength="10.6" lengthAdjust="spacingAndGlyphs" stroke="#000" stroke-width="0.25">10</text>
<text transform="translate(32.50,449.25) rotate(-90)" font-size="8.5" font-family="'DejaVu Sans', 'Liberation Sans', sans-serif" text-anchor="start" stroke="#000" stroke-width="0.25">2</text>
<text x="112.40" y="519.90" font-size="9.5" font-family="'DejaVu Sans', 'Liberation Sans', sans-serif" text-anchor="start" textLength="10.6" lengthAdjust="spacingAndGlyphs" stroke="#000" stroke-width="0.25">10</text>
<text x="126.60" y="512.70" font-size="8.5" font-family="'DejaVu Sans', 'Liberation Sans', sans-serif" text-anchor="start" stroke="#000" stroke-width="0.25">3</text>
<text transform="translate(39.70,438.83) rotate(-90)" font-size="9.5" font-family="'DejaVu Sans', 'Liberation Sans', sans-serif" text-anchor="start" textLength="10.6" lengthAdjust="spacingAndGlyphs" stroke="#000" stroke-width="0.25">10</text>
<text transform="translate(32.50,425.62) rotate(-90)" font-size="8.5" font-family="'DejaVu Sans', 'Liberation Sans', sans-serif" text-anchor="start" stroke="#000" stroke-width="0.25">3</text>
<text x="134.00" y="519.90" font-size="9.5" font-family="'DejaVu Sans', 'Liberation Sans', sans-serif" text-anchor="start" textLength="10.6" lengthAdjust="spacingAndGlyphs" stroke="#000" stroke-width="0.25">10</text>
<text x="148.20" y="512.70" font-size="8.5" font-family="'DejaVu Sans', 'Liberation Sans', sans-serif" text-anchor="start" stroke="#000" stroke-width="0.25">4</text>
<text transform="translate(39.70,415.20) rotate(-90)" font-size="9.5" font-family="'DejaVu Sans', 'Liberation Sans', sans-serif" text-anchor="start" textLength="10.6" lengthAdjust="spacingAndGlyphs" stroke="#000" stroke-width="0.25">10</text>
<text transform="translate(32.50,402.00) rotate(-90)" font-size="8.5" font-family="'DejaVu Sans', 'Liberation Sans', sans-serif" text-anchor="start" stroke="#000" stroke-width="0.25">4</text>
<text x="94.70" y="421.50" font-size="13" font-family="'DejaVu Sans', 'Liberation Sans', sans-serif" text-anchor="start" textLength="42" lengthAdjust="spacingAndGlyphs">16739</text>
<text x="108.30" y="497.00" font-size="13" font-family="'DejaVu Sans', 'Liberation Sans', sans-serif" text-anchor="start" textLength="32.3" lengthAdjust="spacingAndGlyphs">4972</text>
<path d="M241.85 44.85h1.3v1.3h-1.3zM244.85 45.85h1.3v1.3h-1.3zM256.85 45.85h1.3v1.3h-1.3zM234.85 46.85h1.3v1.3h-1.3zM241.85 46.85h1.3v1.3h-1.3zM245.85 46.85h1.3v1.3h-1.3zM252.85 47.85h1.3v1.3h-1.3zM247.85 48.85h1.3v1.3h-1.3zM236.85 49.85h1.3v1.3h-1.3zM241.85 49.85h1.3v1.3h-1.3zM251.85 49.85h1.3v1.3h-1.3zM234.85 50.85h2.3v1.3h-2.3zM239.85 50.85h1.3v1.3h-1.3zM245.85 50.85h2.3v1.3h-2.3zM236.85 51.85h4.3v1.3h-4.3zM243.85 51.85h1.3v1.3h-1.3zM245.85 51.85h1.3v1.3h-1.3zM252.85 51.85h1.3v1.3h-1.3zM235.85 52.85h1.3v1.3h-1.3zM237.85 52.85h1.3v1.3h-1.3zM239.85 52.85h2.3v1.3h-2.3zM242.85 52.85h1.3v1.3h-1.3zM247.85 52.85h1.3v1.3h-1.3zM250.85 52.85h1.3v1.3h-1.3zM236.85 53.85h9.3v1.3h-9.3zM246.85 53.85h1.3v1.3h-1.3zM235.85 54.85h1.3v1.3h-1.3zM238.85 54.85h4.3v1.3h-4.3zM244.85 54.85h1.3v1.3h-1.3zM247.85 54.85h1.3v1.3h-1.3zM252.85 54.85h1.3v1.3h-1.3zM254.85 54.85h1.3v1.3h-1.3zM207.85 55.85h1.3v1.3h-1.3zM234.85 55.85h9.3v1.3h-9.3zM244.85 55.85h1.3v1.3h-1.3zM248.85 55.85h1.3v1.3h-1.3zM235.85 56.85h5.3v1.3h-5.3zM241.85 56.85h1.3v1.3h-1.3zM245.85 56.85h1.3v1.3h-1.3zM251.85 56.85h1.3v1.3h-1.3zM231.85 57.85h1.3v1.3h-1.3zM233.85 57.85h1.3v1.3h-1.3zM236.85 57.85h7.3v1.3h-7.3zM246.85 57.85h2.3v1.3h-2.3zM232.85 58.85h1.3v1.3h-1.3zM234.85 58.85h7.3v1.3h-7.3zM242.85 58.85h1.3v1.3h-1.3zM247.85 58.85h1.3v1.3h-1.3zM233.85 59.85h10.3v1.3h-10.3zM244.85 59.85h1.3v1.3h-1.3zM235.85 60.85h4.3v1.3h-4.3zM240.85 60.85h2.3v1.3h-2.3zM244.85 60.85h2.3v1.3h-2.3zM247.85 60.85h1.3v1.3h-1.3zM234.85 61.85h5.3v1.3h-5.3zM240.85 61.85h2.3v1.3h-2.3zM245.85 61.85h1.3v1.3h-1.3zM253.85 61.85h1.3v1.3h-1.3zM231.85 62.85h1.3v1.3h-1.3zM236.85 62.85h7.3v1.3h-7.3zM244.85 62.85h1.3v1.3h-1.3zM248.85 62.85h2.3v1.3h-2.3zM231.85 63.85h1.3v1.3h-1.3zM233.85 63.85h11.3v1.3h-11.3zM234.85 64.85h1.3v1.3h-1.3zM236.85 64.85h5.3v1.3h-5.3zM243.85 64.85h1.3v1.3h-1.3zM232.85 65.85h1.3v1.3h-1.3zM235.85 65.85h1.3v1.3h-1.3zM237.85 65.85h4.3v1.3h-4.3zM242.85 65.85h2.3v1.3h-2.3zM246.85 65.85h1.3v1.3h-1.3zM255.85 65.85h1.3v1.3h-1.3zM232.85 66.85h1.3v1.3h-1.3zM234.85 66.85h2.3v1.3h-2.3zM237.85 66.85h5.3v1.3h-5.3zM230.85 67.85h2.3v1.3h-2.3zM234.85 67.85h3.3v1.3h-3.3zM239.85 67.85h2.3v1.3h-2.3zM242.85 67.85h2.3v1.3h-2.3zM245.85 67.85h1.3v1.3h-1.3zM231.85 68.85h2.3v1.3h-2.3zM234.85 68.85h2.3v1.3h-2.3zM238.85 68.85h3.3v1.3h-3.3zM224.85 69.85h1.3v1.3h-1.3zM233.85 69.85h1.3v1.3h-1.3zM235.85 69.85h1.3v1.3h-1.3zM238.85 69.85h1.3v1.3h-1.3zM241.85 69.85h3.3v1.3h-3.3zM245.85 69.85h1.3v1.3h-1.3zM227.85 70.85h1.3v1.3h-1.3zM232.85 70.85h1.3v1.3h-1.3zM234.85 70.85h1.3v1.3h-1.3zM236.85 70.85h2.3v1.3h-2.3zM240.85 70.85h1.3v1.3h-1.3zM245.85 70.85h1.3v1.3h-1.3zM233.85 71.85h1.3v1.3h-1.3zM235.85 71.85h1.3v1.3h-1.3zM237.85 71.85h2.3v1.3h-2.3zM241.85 71.85h2.3v1.3h-2.3zM246.85 71.85h1.3v1.3h-1.3zM233.85 72.85h2.3v1.3h-2.3zM236.85 72.85h1.3v1.3h-1.3zM241.85 72.85h1.3v1.3h-1.3zM257.85 72.85h1.3v1.3h-1.3zM233.85 73.85h1.3v1.3h-1.3zM237.85 73.85h5.3v1.3h-5.3zM252.85 73.85h1.3v1.3h-1.3zM224.85 74.85h1.3v1.3h-1.3zM231.85 74.85h1.3v1.3h-1.3zM235.85 74.85h1.3v1.3h-1.3zM239.85 74.85h1.3v1.3h-1.3zM246.85 74.85h1.3v1.3h-1.3zM250.85 74.85h1.3v1.3h-1.3zM235.85 75.85h2.3v1.3h-2.3zM238.85 77.85h1.3v1.3h-1.3zM243.85 77.85h1.3v1.3h-1.3zM251.85 77.85h1.3v1.3h-1.3zM232.85 78.85h1.3v1.3h-1.3zM244.85 78.85h1.3v1.3h-1.3zM237.85 82.85h1.3v1.3h-1.3zM240.85 82.85h1.3v1.3h-1.3zM243.85 82.85h1.3v1.3h-1.3zM234.85 83.85h1.3v1.3h-1.3zM238.85 83.85h1.3v1.3h-1.3zM235.85 85.85h2.3v1.3h-2.3zM230.85 86.85h1.3v1.3h-1.3zM241.85 86.85h3.3v1.3h-3.3zM249.85 86.85h1.3v1.3h-1.3zM226.85 87.85h1.3v1.3h-1.3zM231.85 87.85h1.3v1.3h-1.3zM238.85 87.85h1.3v1.3h-1.3zM243.85 87.85h1.3v1.3h-1.3zM241.85 88.85h3.3v1.3h-3.3zM234.85 89.85h2.3v1.3h-2.3zM240.85 89.85h1.3v1.3h-1.3zM244.85 89.85h1.3v1.3h-1.3zM251.85 89.85h1.3v1.3h-1.3zM234.85 90.85h1.3v1.3h-1.3zM245.85 90.85h1.3v1.3h-1.3zM253.85 90.85h1.3v1.3h-1.3zM233.85 91.85h1.3v1.3h-1.3zM236.85 91.85h4.3v1.3h-4.3zM245.85 91.85h1.3v1.3h-1.3zM247.85 91.85h1.3v1.3h-1.3zM232.85 92.85h1.3v1.3h-1.3zM235.85 92.85h2.3v1.3h-2.3zM239.85 92.85h1.3v1.3h-1.3zM242.85 92.85h1.3v1.3h-1.3zM234.85 93.85h1.3v1.3h-1.3zM238.85 93.85h1.3v1.3h-1.3zM242.85 93.85h1.3v1.3h-1.3zM250.85 93.85h1.3v1.3h-1.3zM255.85 93.85h1.3v1.3h-1.3zM211.85 94.85h1.3v1.3h-1.3zM230.85 94.85h1.3v1.3h-1.3zM233.85 94.85h1.3v1.3h-1.3zM236.85 94.85h1.3v1.3h-1.3zM245.85 94.85h2.3v1.3h-2.3zM250.85 94.85h1.3v1.3h-1.3zM240.85 95.85h1.3v1.3h-1.3zM242.85 95.85h1.3v1.3h-1.3zM256.85 95.85h1.3v1.3h-1.3zM232.85 96.85h1.3v1.3h-1.3zM250.85 96.85h1.3v1.3h-1.3zM243.85 97.85h1.3v1.3h-1.3zM233.85 98.85h1.3v1.3h-1.3zM237.85 98.85h1.3v1.3h-1.3zM239.85 98.85h1.3v1.3h-1.3zM244.85 98.85h1.3v1.3h-1.3zM241.85 99.85h1.3v1.3h-1.3zM244.85 99.85h1.3v1.3h-1.3zM238.85 101.85h2.3v1.3h-2.3zM241.85 101.85h2.3v1.3h-2.3zM245.85 101.85h2.3v1.3h-2.3zM234.85 102.85h1.3v1.3h-1.3zM239.85 102.85h1.3v1.3h-1.3zM244.85 102.85h1.3v1.3h-1.3zM229.85 103.85h1.3v1.3h-1.3zM238.85 103.85h1.3v1.3h-1.3zM240.85 103.85h1.3v1.3h-1.3zM243.85 103.85h2.3v1.3h-2.3zM246.85 103.85h1.3v1.3h-1.3zM234.85 104.85h1.3v1.3h-1.3zM238.85 104.85h1.3v1.3h-1.3zM242.85 104.85h1.3v1.3h-1.3zM244.85 104.85h1.3v1.3h-1.3zM247.85 104.85h1.3v1.3h-1.3zM238.85 105.85h1.3v1.3h-1.3zM241.85 105.85h1.3v1.3h-1.3zM243.85 105.85h1.3v1.3h-1.3zM246.85 105.85h1.3v1.3h-1.3zM231.85 106.85h1.3v1.3h-1.3zM245.85 106.85h2.3v1.3h-2.3zM232.85 107.85h1.3v1.3h-1.3zM235.85 107.85h1.3v1.3h-1.3zM207.85 108.85h1.3v1.3h-1.3zM239.85 108.85h2.3v1.3h-2.3zM242.85 108.85h1.3v1.3h-1.3zM239.85 109.85h1.3v1.3h-1.3zM231.85 110.85h1.3v1.3h-1.3zM241.85 110.85h1.3v1.3h-1.3z" fill="#000"/>
<rect x="185.30" y="20.30" width="92.90" height="95.00" fill="none" stroke="#000" stroke-width="1.6"/>
<line x1="221.60" y1="20.30" x2="221.60" y2="115.30" stroke="#000" stroke-width="1.5"/>
<line x1="185.30" y1="80.20" x2="278.20" y2="80.20" stroke="#000" stroke-width="1.5"/>
<path d="M185.30 115.30h-5.5M185.30 115.30v5.5M185.30 108.15h-3.5M192.29 115.30v3.5M185.30 103.97h-3.5M196.38 115.30v3.5M185.30 101.00h-3.5M199.28 115.30v3.5M185.30 98.70h-3.5M201.53 115.30v3.5M185.30 96.82h-3.5M203.37 115.30v3.5M185.30 95.23h-3.5M204.93 115.30v3.5M185.30 93.85h-3.5M206.27 115.30v3.5M185.30 92.64h-3.5M207.46 115.30v3.5M185.30 91.55h-5.5M208.53 115.30v5.5M185.30 84.40h-3.5M215.52 115.30v3.5M185.30 80.22h-3.5M219.61 115.30v3.5M185.30 77.25h-3.5M222.51 115.30v3.5M185.30 74.95h-3.5M224.76 115.30v3.5M185.30 73.07h-3.5M226.60 115.30v3.5M185.30 71.48h-3.5M228.15 115.30v3.5M185.30 70.10h-3.5M229.50 115.30v3.5M185.30 68.89h-3.5M230.69 115.30v3.5M185.30 67.80h-5.5M231.75 115.30v5.5M185.30 60.65h-3.5M238.74 115.30v3.5M185.30 56.47h-3.5M242.83 115.30v3.5M185.30 53.50h-3.5M245.73 115.30v3.5M185.30 51.20h-3.5M247.98 115.30v3.5M185.30 49.32h-3.5M249.82 115.30v3.5M185.30 47.73h-3.5M251.38 115.30v3.5M185.30 46.35h-3.5M252.72 115.30v3.5M185.30 45.14h-3.5M253.91 115.30v3.5M185.30 44.05h-5.5M254.97 115.30v5.5M185.30 36.90h-3.5M261.97 115.30v3.5M185.30 32.72h-3.5M266.06 115.30v3.5M185.30 29.75h-3.5M268.96 115.30v3.5M185.30 27.45h-3.5M271.21 115.30v3.5M185.30 25.57h-3.5M273.05 115.30v3.5M185.30 23.98h-3.5M274.60 115.30v3.5M185.30 22.60h-3.5M275.95 115.30v3.5M185.30 21.39h-3.5M277.14 115.30v3.5M185.30 20.30h-5.5M278.20 115.30v5.5" stroke="#000" stroke-width="1.3" fill="none"/>
<text x="177.30" y="135.10" font-size="9.5" font-family="'DejaVu Sans', 'Liberation Sans', sans-serif" text-anchor="start" textLength="10.6" lengthAdjust="spacingAndGlyphs" stroke="#000" stroke-width="0.25">10</text>
<text x="191.50" y="127.90" font-size="8.5" font-family="'DejaVu Sans', 'Liberation Sans', sans-serif" text-anchor="start" stroke="#000" stroke-width="0.25">0</text>
<text transform="translate(173.80,124.90) rotate(-90)" font-size="9.5" font-family="'DejaVu Sans', 'Liberation Sans', sans-serif" text-anchor="start" textLength="10.6" lengthAdjust="spacingAndGlyphs" stroke="#000" stroke-width="0.25">10</text>
<text transform="translate(166.60,111.70) rotate(-90)" font-size="8.5" font-family="'DejaVu Sans', 'Liberation Sans', sans-serif" text-anchor="start" stroke="#000" stroke-width="0.25">0</text>
<text x="200.53" y="135.10" font-size="9.5" font-family="'DejaVu Sans', 'Liberation Sans', sans-serif" text-anchor="start" textLength="10.6" lengthAdjust="spacingAndGlyphs" stroke="#000" stroke-width="0.25">10</text>
<text x="214.72" y="127.90" font-size="8.5" font-family="'DejaVu Sans', 'Liberation Sans', sans-serif" text-anchor="start" stroke="#000" stroke-width="0.25">1</text>
<text transform="translate(173.80,101.15) rotate(-90)" font-size="9.5" font-family="'DejaVu Sans', 'Liberation Sans', sans-serif" text-anchor="start" textLength="10.6" lengthAdjust="spacingAndGlyphs" stroke="#000" stroke-width="0.25">10</text>
<text transform="translate(166.60,87.95) rotate(-90)" font-size="8.5" font-family="'DejaVu Sans', 'Liberation Sans', sans-serif" text-anchor="start" stroke="#000" stroke-width="0.25">1</text>
<text x="223.75" y="135.10" font-size="9.5" font-family="'DejaVu Sans', 'Liberation Sans', sans-serif" text-anchor="start" textLength="10.6" lengthAdjust="spacingAndGlyphs" stroke="#000" stroke-width="0.25">10</text>
<text x="237.95" y="127.90" font-size="8.5" font-family="'DejaVu Sans', 'Liberation Sans', sans-serif" text-anchor="start" stroke="#000" stroke-width="0.25">2</text>
<text transform="translate(173.80,77.40) rotate(-90)" font-size="9.5" font-family="'DejaVu Sans', 'Liberation Sans', sans-serif" text-anchor="start" textLength="10.6" lengthAdjust="spacingAndGlyphs" stroke="#000" stroke-width="0.25">10</text>
<text transform="translate(166.60,64.20) rotate(-90)" font-size="8.5" font-family="'DejaVu Sans', 'Liberation Sans', sans-serif" text-anchor="start" stroke="#000" stroke-width="0.25">2</text>
<text x="246.97" y="135.10" font-size="9.5" font-family="'DejaVu Sans', 'Liberation Sans', sans-serif" text-anchor="start" textLength="10.6" lengthAdjust="spacingAndGlyphs" stroke="#000" stroke-width="0.25">10</text>
<text x="261.18" y="127.90" font-size="8.5" font-family="'DejaVu Sans', 'Liberation Sans', sans-serif" text-anchor="start" stroke="#000" stroke-width="0.25">3</text>
<text transform="translate(173.80,53.65) rotate(-90)" font-size="9.5" font-family="'DejaVu Sans', 'Liberation Sans', sans-serif" text-anchor="start" textLength="10.6" lengthAdjust="spacingAndGlyphs" stroke="#000" stroke-width="0.25">10</text>
<text transform="translate(166.60,40.45) rotate(-90)" font-size="8.5" font-family="'DejaVu Sans', 'Liberation Sans', sans-serif" text-anchor="start" stroke="#000" stroke-width="0.25">3</text>
<text x="268.40" y="135.10" font-size="9.5" font-family="'DejaVu Sans', 'Liberation Sans', sans-serif" text-anchor="start" textLength="10.6" lengthAdjust="spacingAndGlyphs" stroke="#000" stroke-width="0.25">10</text>
<text x="282.60" y="127.90" font-size="8.5" font-family="'DejaVu Sans', 'Liberation Sans', sans-serif" text-anchor="start" stroke="#000" stroke-width="0.25">4</text>
<text transform="translate(173.80,29.90) rotate(-90)" font-size="9.5" font-family="'DejaVu Sans', 'Liberation Sans', sans-serif" text-anchor="start" textLength="10.6" lengthAdjust="spacingAndGlyphs" stroke="#000" stroke-width="0.25">10</text>
<text transform="translate(166.60,16.70) rotate(-90)" font-size="8.5" font-family="'DejaVu Sans', 'Liberation Sans', sans-serif" text-anchor="start" stroke="#000" stroke-width="0.25">4</text>
<text x="244.60" y="36.50" font-size="13" font-family="'DejaVu Sans', 'Liberation Sans', sans-serif" text-anchor="start" textLength="26.5" lengthAdjust="spacingAndGlyphs">679</text>
<text x="249.60" y="111.30" font-size="13" font-family="'DejaVu Sans', 'Liberation Sans', sans-serif" text-anchor="start" textLength="26" lengthAdjust="spacingAndGlyphs">305</text>
<path d="M227.85 180.85h1.3v1.3h-1.3zM235.85 186.85h1.3v1.3h-1.3zM246.85 191.85h1.3v1.3h-1.3zM239.85 195.85h1.3v1.3h-1.3zM250.85 196.85h1.3v1.3h-1.3zM225.85 197.85h1.3v1.3h-1.3zM263.85 197.85h1.3v1.3h-1.3zM237.85 198.85h1.3v1.3h-1.3zM246.85 198.85h1.3v1.3h-1.3zM248.85 198.85h1.3v1.3h-1.3zM254.85 198.85h1.3v1.3h-1.3zM237.85 199.85h1.3v1.3h-1.3zM225.85 200.85h1.3v1.3h-1.3zM231.85 200.85h1.3v1.3h-1.3zM236.85 200.85h1.3v1.3h-1.3zM243.85 200.85h1.3v1.3h-1.3zM249.85 200.85h1.3v1.3h-1.3zM215.85 201.85h1.3v1.3h-1.3zM236.85 201.85h1.3v1.3h-1.3zM239.85 201.85h1.3v1.3h-1.3zM239.85 202.85h1.3v1.3h-1.3zM236.85 203.85h1.3v1.3h-1.3zM247.85 203.85h1.3v1.3h-1.3zM250.85 203.85h1.3v1.3h-1.3zM248.85 204.85h2.3v1.3h-2.3zM263.85 204.85h1.3v1.3h-1.3zM234.85 205.85h2.3v1.3h-2.3zM237.85 205.85h3.3v1.3h-3.3zM241.85 205.85h5.3v1.3h-5.3zM227.85 206.85h1.3v1.3h-1.3zM236.85 206.85h7.3v1.3h-7.3zM244.85 206.85h1.3v1.3h-1.3zM260.85 206.85h1.3v1.3h-1.3zM226.85 207.85h1.3v1.3h-1.3zM228.85 207.85h1.3v1.3h-1.3zM232.85 207.85h1.3v1.3h-1.3zM235.85 207.85h12.3v1.3h-12.3zM248.85 207.85h1.3v1.3h-1.3zM232.85 208.85h1.3v1.3h-1.3zM234.85 208.85h6.3v1.3h-6.3zM241.85 208.85h3.3v1.3h-3.3zM245.85 208.85h4.3v1.3h-4.3zM259.85 208.85h1.3v1.3h-1.3zM233.85 209.85h1.3v1.3h-1.3zM235.85 209.85h2.3v1.3h-2.3zM238.85 209.85h10.3v1.3h-10.3zM223.85 210.85h1.3v1.3h-1.3zM233.85 210.85h4.3v1.3h-4.3zM239.85 210.85h4.3v1.3h-4.3zM244.85 210.85h5.3v1.3h-5.3zM252.85 210.85h1.3v1.3h-1.3zM227.85 211.85h1.3v1.3h-1.3zM230.85 211.85h1.3v1.3h-1.3zM232.85 211.85h14.3v1.3h-14.3zM247.85 211.85h3.3v1.3h-3.3zM232.85 212.85h6.3v1.3h-6.3zM239.85 212.85h11.3v1.3h-11.3zM221.85 213.85h1.3v1.3h-1.3zM223.85 213.85h1.3v1.3h-1.3zM231.85 213.85h8.3v1.3h-8.3zM241.85 213.85h5.3v1.3h-5.3zM247.85 213.85h1.3v1.3h-1.3zM226.85 214.85h1.3v1.3h-1.3zM231.85 214.85h8.3v1.3h-8.3zM240.85 214.85h8.3v1.3h-8.3zM258.85 214.85h1.3v1.3h-1.3zM228.85 215.85h1.3v1.3h-1.3zM230.85 215.85h6.3v1.3h-6.3zM237.85 215.85h2.3v1.3h-2.3zM240.85 215.85h9.3v1.3h-9.3zM250.85 215.85h1.3v1.3h-1.3zM252.85 215.85h1.3v1.3h-1.3zM254.85 215.85h1.3v1.3h-1.3zM259.85 215.85h1.3v1.3h-1.3zM224.85 216.85h1.3v1.3h-1.3zM227.85 216.85h1.3v1.3h-1.3zM231.85 216.85h15.3v1.3h-15.3zM247.85 216.85h2.3v1.3h-2.3zM254.85 216.85h1.3v1.3h-1.3zM228.85 217.85h1.3v1.3h-1.3zM231.85 217.85h18.3v1.3h-18.3zM255.85 217.85h1.3v1.3h-1.3zM260.85 217.85h1.3v1.3h-1.3zM227.85 218.85h2.3v1.3h-2.3zM231.85 218.85h3.3v1.3h-3.3zM235.85 218.85h3.3v1.3h-3.3zM239.85 218.85h6.3v1.3h-6.3zM246.85 218.85h2.3v1.3h-2.3zM256.85 218.85h1.3v1.3h-1.3zM218.85 219.85h1.3v1.3h-1.3zM226.85 219.85h1.3v1.3h-1.3zM231.85 219.85h9.3v1.3h-9.3zM241.85 219.85h8.3v1.3h-8.3zM255.85 219.85h1.3v1.3h-1.3zM265.85 219.85h1.3v1.3h-1.3zM219.85 220.85h1.3v1.3h-1.3zM229.85 220.85h1.3v1.3h-1.3zM231.85 220.85h21.3v1.3h-21.3zM214.85 221.85h1.3v1.3h-1.3zM225.85 221.85h1.3v1.3h-1.3zM229.85 221.85h1.3v1.3h-1.3zM231.85 221.85h18.3v1.3h-18.3zM250.85 221.85h1.3v1.3h-1.3zM221.85 222.85h1.3v1.3h-1.3zM228.85 222.85h7.3v1.3h-7.3zM236.85 222.85h3.3v1.3h-3.3zM240.85 222.85h9.3v1.3h-9.3zM221.85 223.85h1.3v1.3h-1.3zM231.85 223.85h2.3v1.3h-2.3zM234.85 223.85h4.3v1.3h-4.3zM239.85 223.85h6.3v1.3h-6.3zM248.85 223.85h1.3v1.3h-1.3zM256.85 223.85h1.3v1.3h-1.3zM261.85 223.85h1.3v1.3h-1.3zM229.85 224.85h1.3v1.3h-1.3zM231.85 224.85h2.3v1.3h-2.3zM234.85 224.85h3.3v1.3h-3.3zM238.85 224.85h11.3v1.3h-11.3zM227.85 225.85h1.3v1.3h-1.3zM231.85 225.85h2.3v1.3h-2.3zM234.85 225.85h4.3v1.3h-4.3zM239.85 225.85h8.3v1.3h-8.3zM248.85 225.85h1.3v1.3h-1.3zM227.85 226.85h1.3v1.3h-1.3zM229.85 226.85h2.3v1.3h-2.3zM232.85 226.85h18.3v1.3h-18.3zM252.85 226.85h1.3v1.3h-1.3zM215.85 227.85h1.3v1.3h-1.3zM231.85 227.85h13.3v1.3h-13.3zM245.85 227.85h4.3v1.3h-4.3zM226.85 228.85h1.3v1.3h-1.3zM228.85 228.85h1.3v1.3h-1.3zM232.85 228.85h17.3v1.3h-17.3zM251.85 228.85h1.3v1.3h-1.3zM253.85 228.85h1.3v1.3h-1.3zM233.85 229.85h5.3v1.3h-5.3zM239.85 229.85h9.3v1.3h-9.3zM215.85 230.85h1.3v1.3h-1.3zM220.85 230.85h1.3v1.3h-1.3zM232.85 230.85h12.3v1.3h-12.3zM245.85 230.85h1.3v1.3h-1.3zM247.85 230.85h1.3v1.3h-1.3zM252.85 230.85h1.3v1.3h-1.3zM254.85 230.85h1.3v1.3h-1.3zM232.85 231.85h16.3v1.3h-16.3zM252.85 231.85h1.3v1.3h-1.3zM221.85 232.85h1.3v1.3h-1.3zM234.85 232.85h14.3v1.3h-14.3zM249.85 232.85h1.3v1.3h-1.3zM256.85 232.85h1.3v1.3h-1.3zM215.85 233.85h1.3v1.3h-1.3zM220.85 233.85h1.3v1.3h-1.3zM234.85 233.85h13.3v1.3h-13.3zM229.85 234.85h1.3v1.3h-1.3zM236.85 234.85h5.3v1.3h-5.3zM242.85 234.85h6.3v1.3h-6.3zM254.85 234.85h1.3v1.3h-1.3zM223.85 235.85h1.3v1.3h-1.3zM225.85 235.85h1.3v1.3h-1.3zM238.85 235.85h1.3v1.3h-1.3zM243.85 235.85h1.3v1.3h-1.3zM232.85 236.85h1.3v1.3h-1.3zM222.85 237.85h2.3v1.3h-2.3zM228.85 237.85h1.3v1.3h-1.3zM236.85 237.85h1.3v1.3h-1.3zM238.85 237.85h2.3v1.3h-2.3zM267.85 237.85h1.3v1.3h-1.3zM225.85 238.85h1.3v1.3h-1.3zM229.85 238.85h2.3v1.3h-2.3zM234.85 238.85h8.3v1.3h-8.3zM250.85 238.85h1.3v1.3h-1.3zM252.85 238.85h1.3v1.3h-1.3zM258.85 238.85h1.3v1.3h-1.3zM225.85 239.85h2.3v1.3h-2.3zM232.85 239.85h8.3v1.3h-8.3zM241.85 239.85h1.3v1.3h-1.3zM243.85 239.85h3.3v1.3h-3.3zM247.85 239.85h3.3v1.3h-3.3zM219.85 240.85h1.3v1.3h-1.3zM223.85 240.85h1.3v1.3h-1.3zM227.85 240.85h1.3v1.3h-1.3zM230.85 240.85h3.3v1.3h-3.3zM235.85 240.85h2.3v1.3h-2.3zM239.85 240.85h3.3v1.3h-3.3zM243.85 240.85h1.3v1.3h-1.3zM246.85 240.85h3.3v1.3h-3.3zM252.85 240.85h2.3v1.3h-2.3zM225.85 241.85h1.3v1.3h-1.3zM227.85 241.85h3.3v1.3h-3.3zM235.85 241.85h2.3v1.3h-2.3zM238.85 241.85h2.3v1.3h-2.3zM241.85 241.85h1.3v1.3h-1.3zM247.85 241.85h2.3v1.3h-2.3zM251.85 241.85h1.3v1.3h-1.3zM215.85 242.85h1.3v1.3h-1.3zM226.85 242.85h3.3v1.3h-3.3zM230.85 242.85h1.3v1.3h-1.3zM233.85 242.85h1.3v1.3h-1.3zM236.85 242.85h10.3v1.3h-10.3zM248.85 242.85h1.3v1.3h-1.3zM250.85 242.85h1.3v1.3h-1.3zM253.85 242.85h1.3v1.3h-1.3zM214.85 243.85h1.3v1.3h-1.3zM227.85 243.85h1.3v1.3h-1.3zM231.85 243.85h1.3v1.3h-1.3zM234.85 243.85h7.3v1.3h-7.3zM242.85 243.85h1.3v1.3h-1.3zM246.85 243.85h3.3v1.3h-3.3zM250.85 243.85h2.3v1.3h-2.3zM218.85 244.85h1.3v1.3h-1.3zM225.85 244.85h3.3v1.3h-3.3zM229.85 244.85h1.3v1.3h-1.3zM233.85 244.85h1.3v1.3h-1.3zM236.85 244.85h5.3v1.3h-5.3zM242.85 244.85h1.3v1.3h-1.3zM244.85 244.85h1.3v1.3h-1.3zM246.85 244.85h3.3v1.3h-3.3zM250.85 244.85h3.3v1.3h-3.3zM264.85 244.85h1.3v1.3h-1.3zM209.85 245.85h1.3v1.3h-1.3zM211.85 245.85h1.3v1.3h-1.3zM218.85 245.85h1.3v1.3h-1.3zM225.85 245.85h1.3v1.3h-1.3zM232.85 245.85h1.3v1.3h-1.3zM234.85 245.85h4.3v1.3h-4.3zM239.85 245.85h4.3v1.3h-4.3zM249.85 245.85h1.3v1.3h-1.3zM252.85 245.85h1.3v1.3h-1.3zM218.85 246.85h1.3v1.3h-1.3zM225.85 246.85h1.3v1.3h-1.3zM229.85 246.85h2.3v1.3h-2.3zM234.85 246.85h1.3v1.3h-1.3zM236.85 246.85h2.3v1.3h-2.3zM239.85 246.85h1.3v1.3h-1.3zM242.85 246.85h1.3v1.3h-1.3zM245.85 246.85h2.3v1.3h-2.3zM251.85 246.85h2.3v1.3h-2.3zM261.85 246.85h1.3v1.3h-1.3zM204.85 247.85h1.3v1.3h-1.3zM210.85 247.85h1.3v1.3h-1.3zM225.85 247.85h1.3v1.3h-1.3zM230.85 247.85h1.3v1.3h-1.3zM233.85 247.85h1.3v1.3h-1.3zM235.85 247.85h4.3v1.3h-4.3zM241.85 247.85h2.3v1.3h-2.3zM245.85 247.85h2.3v1.3h-2.3zM248.85 247.85h3.3v1.3h-3.3zM223.85 248.85h1.3v1.3h-1.3zM226.85 248.85h1.3v1.3h-1.3zM230.85 248.85h1.3v1.3h-1.3zM234.85 248.85h3.3v1.3h-3.3zM238.85 248.85h2.3v1.3h-2.3zM242.85 248.85h5.3v1.3h-5.3zM253.85 248.85h1.3v1.3h-1.3zM229.85 249.85h3.3v1.3h-3.3zM233.85 249.85h1.3v1.3h-1.3zM235.85 249.85h5.3v1.3h-5.3zM242.85 249.85h5.3v1.3h-5.3zM251.85 249.85h2.3v1.3h-2.3zM204.85 250.85h1.3v1.3h-1.3zM215.85 250.85h1.3v1.3h-1.3zM224.85 250.85h1.3v1.3h-1.3zM230.85 250.85h4.3v1.3h-4.3zM235.85 250.85h4.3v1.3h-4.3zM240.85 250.85h4.3v1.3h-4.3zM250.85 250.85h1.3v1.3h-1.3zM265.85 250.85h1.3v1.3h-1.3zM207.85 251.85h1.3v1.3h-1.3zM215.85 251.85h2.3v1.3h-2.3zM225.85 251.85h1.3v1.3h-1.3zM229.85 251.85h3.3v1.3h-3.3zM233.85 251.85h1.3v1.3h-1.3zM236.85 251.85h1.3v1.3h-1.3zM238.85 251.85h3.3v1.3h-3.3zM246.85 251.85h1.3v1.3h-1.3zM250.85 251.85h1.3v1.3h-1.3zM254.85 251.85h1.3v1.3h-1.3zM221.85 252.85h1.3v1.3h-1.3zM226.85 252.85h1.3v1.3h-1.3zM235.85 252.85h6.3v1.3h-6.3zM244.85 252.85h1.3v1.3h-1.3zM253.85 252.85h1.3v1.3h-1.3zM206.85 253.85h1.3v1.3h-1.3zM216.85 253.85h1.3v1.3h-1.3zM220.85 253.85h1.3v1.3h-1.3zM226.85 253.85h1.3v1.3h-1.3zM234.85 253.85h2.3v1.3h-2.3zM239.85 253.85h2.3v1.3h-2.3zM244.85 253.85h1.3v1.3h-1.3zM248.85 253.85h1.3v1.3h-1.3zM207.85 254.85h1.3v1.3h-1.3zM217.85 254.85h1.3v1.3h-1.3zM228.85 254.85h1.3v1.3h-1.3zM233.85 254.85h1.3v1.3h-1.3zM235.85 254.85h3.3v1.3h-3.3zM239.85 254.85h2.3v1.3h-2.3zM225.85 255.85h1.3v1.3h-1.3zM230.85 255.85h3.3v1.3h-3.3zM236.85 255.85h5.3v1.3h-5.3zM242.85 255.85h1.3v1.3h-1.3zM249.85 255.85h1.3v1.3h-1.3zM252.85 255.85h1.3v1.3h-1.3zM212.85 256.85h2.3v1.3h-2.3zM220.85 256.85h1.3v1.3h-1.3zM227.85 256.85h1.3v1.3h-1.3zM233.85 256.85h1.3v1.3h-1.3zM235.85 256.85h1.3v1.3h-1.3zM237.85 256.85h3.3v1.3h-3.3zM245.85 256.85h1.3v1.3h-1.3zM252.85 256.85h1.3v1.3h-1.3zM218.85 257.85h1.3v1.3h-1.3zM229.85 257.85h2.3v1.3h-2.3zM232.85 257.85h1.3v1.3h-1.3zM234.85 257.85h5.3v1.3h-5.3zM240.85 257.85h1.3v1.3h-1.3zM207.85 258.85h1.3v1.3h-1.3zM218.85 258.85h1.3v1.3h-1.3zM227.85 258.85h3.3v1.3h-3.3zM231.85 258.85h1.3v1.3h-1.3zM235.85 258.85h2.3v1.3h-2.3zM238.85 258.85h1.3v1.3h-1.3zM204.85 259.85h1.3v1.3h-1.3zM212.85 259.85h1.3v1.3h-1.3zM220.85 259.85h1.3v1.3h-1.3zM227.85 259.85h1.3v1.3h-1.3zM229.85 259.85h1.3v1.3h-1.3zM234.85 259.85h7.3v1.3h-7.3zM209.85 260.85h1.3v1.3h-1.3zM227.85 260.85h1.3v1.3h-1.3zM233.85 260.85h1.3v1.3h-1.3zM235.85 260.85h1.3v1.3h-1.3zM237.85 260.85h1.3v1.3h-1.3zM239.85 260.85h2.3v1.3h-2.3zM219.85 261.85h1.3v1.3h-1.3zM228.85 261.85h2.3v1.3h-2.3zM233.85 261.85h1.3v1.3h-1.3zM235.85 261.85h4.3v1.3h-4.3zM240.85 261.85h1.3v1.3h-1.3zM218.85 262.85h1.3v1.3h-1.3zM230.85 262.85h1.3v1.3h-1.3zM232.85 262.85h1.3v1.3h-1.3zM235.85 262.85h1.3v1.3h-1.3zM237.85 262.85h4.3v1.3h-4.3zM230.85 263.85h1.3v1.3h-1.3zM235.85 263.85h5.3v1.3h-5.3zM231.85 264.85h1.3v1.3h-1.3zM235.85 264.85h2.3v1.3h-2.3zM238.85 264.85h3.3v1.3h-3.3zM235.85 265.85h2.3v1.3h-2.3zM238.85 265.85h2.3v1.3h-2.3zM237.85 266.85h4.3v1.3h-4.3zM235.85 267.85h2.3v1.3h-2.3zM238.85 267.85h2.3v1.3h-2.3zM235.85 268.85h4.3v1.3h-4.3zM240.85 268.85h1.3v1.3h-1.3zM235.85 269.85h6.3v1.3h-6.3zM235.85 270.85h3.3v1.3h-3.3zM239.85 270.85h2.3v1.3h-2.3z" fill="#000"/>
<rect x="242.00" y="257.50" width="35.30" height="15.30" fill="#fff"/>
<rect x="185.30" y="178.40" width="92.70" height="95.10" fill="none" stroke="#000" stroke-width="1.6"/>
<line x1="222.80" y1="178.40" x2="222.80" y2="273.50" stroke="#000" stroke-width="1.5"/>
<line x1="185.30" y1="238.40" x2="278.00" y2="238.40" stroke="#000" stroke-width="1.5"/>
<path d="M185.30 273.50h-5.5M185.30 273.50v5.5M185.30 266.34h-3.5M192.28 273.50v3.5M185.30 262.16h-3.5M196.36 273.50v3.5M185.30 259.19h-3.5M199.25 273.50v3.5M185.30 256.88h-3.5M201.50 273.50v3.5M185.30 255.00h-3.5M203.33 273.50v3.5M185.30 253.41h-3.5M204.89 273.50v3.5M185.30 252.03h-3.5M206.23 273.50v3.5M185.30 250.81h-3.5M207.41 273.50v3.5M185.30 249.72h-5.5M208.48 273.50v5.5M185.30 242.57h-3.5M215.45 273.50v3.5M185.30 238.38h-3.5M219.53 273.50v3.5M185.30 235.41h-3.5M222.43 273.50v3.5M185.30 233.11h-3.5M224.67 273.50v3.5M185.30 231.22h-3.5M226.51 273.50v3.5M185.30 229.63h-3.5M228.06 273.50v3.5M185.30 228.25h-3.5M229.40 273.50v3.5M185.30 227.04h-3.5M230.59 273.50v3.5M185.30 225.95h-5.5M231.65 273.50v5.5M185.30 218.79h-3.5M238.63 273.50v3.5M185.30 214.61h-3.5M242.71 273.50v3.5M185.30 211.64h-3.5M245.60 273.50v3.5M185.30 209.33h-3.5M247.85 273.50v3.5M185.30 207.45h-3.5M249.68 273.50v3.5M185.30 205.86h-3.5M251.24 273.50v3.5M185.30 204.48h-3.5M252.58 273.50v3.5M185.30 203.26h-3.5M253.76 273.50v3.5M185.30 202.18h-5.5M254.82 273.50v5.5M185.30 195.02h-3.5M261.80 273.50v3.5M185.30 190.83h-3.5M265.88 273.50v3.5M185.30 187.86h-3.5M268.78 273.50v3.5M185.30 185.56h-3.5M271.02 273.50v3.5M185.30 183.67h-3.5M272.86 273.50v3.5M185.30 182.08h-3.5M274.41 273.50v3.5M185.30 180.70h-3.5M275.75 273.50v3.5M185.30 179.49h-3.5M276.94 273.50v3.5M185.30 178.40h-5.5M278.00 273.50v5.5" stroke="#000" stroke-width="1.3" fill="none"/>
<text x="177.30" y="293.30" font-size="9.5" font-family="'DejaVu Sans', 'Liberation Sans', sans-serif" text-anchor="start" textLength="10.6" lengthAdjust="spacingAndGlyphs" stroke="#000" stroke-width="0.25">10</text>
<text x="191.50" y="286.10" font-size="8.5" font-family="'DejaVu Sans', 'Liberation Sans', sans-serif" text-anchor="start" stroke="#000" stroke-width="0.25">0</text>
<text transform="translate(173.80,283.10) rotate(-90)" font-size="9.5" font-family="'DejaVu Sans', 'Liberation Sans', sans-serif" text-anchor="start" textLength="10.6" lengthAdjust="spacingAndGlyphs" stroke="#000" stroke-width="0.25">10</text>
<text transform="translate(166.60,269.90) rotate(-90)" font-size="8.5" font-family="'DejaVu Sans', 'Liberation Sans', sans-serif" text-anchor="start" stroke="#000" stroke-width="0.25">0</text>
<text x="200.48" y="293.30" font-size="9.5" font-family="'DejaVu Sans', 'Liberation Sans', sans-serif" text-anchor="start" textLength="10.6" lengthAdjust="spacingAndGlyphs" stroke="#000" stroke-width="0.25">10</text>
<text x="214.68" y="286.10" font-size="8.5" font-family="'DejaVu Sans', 'Liberation Sans', sans-serif" text-anchor="start" stroke="#000" stroke-width="0.25">1</text>
<text transform="translate(173.80,259.32) rotate(-90)" font-size="9.5" font-family="'DejaVu Sans', 'Liberation Sans', sans-serif" text-anchor="start" textLength="10.6" lengthAdjust="spacingAndGlyphs" stroke="#000" stroke-width="0.25">10</text>
<text transform="translate(166.60,246.12) rotate(-90)" font-size="8.5" font-family="'DejaVu Sans', 'Liberation Sans', sans-serif" text-anchor="start" stroke="#000" stroke-width="0.25">1</text>
<text x="223.65" y="293.30" font-size="9.5" font-family="'DejaVu Sans', 'Liberation Sans', sans-serif" text-anchor="start" textLength="10.6" lengthAdjust="spacingAndGlyphs" stroke="#000" stroke-width="0.25">10</text>
<text x="237.85" y="286.10" font-size="8.5" font-family="'DejaVu Sans', 'Liberation Sans', sans-serif" text-anchor="start" stroke="#000" stroke-width="0.25">2</text>
<text transform="translate(173.80,235.55) rotate(-90)" font-size="9.5" font-family="'DejaVu Sans', 'Liberation Sans', sans-serif" text-anchor="start" textLength="10.6" lengthAdjust="spacingAndGlyphs" stroke="#000" stroke-width="0.25">10</text>
<text transform="translate(166.60,222.35) rotate(-90)" font-size="8.5" font-family="'DejaVu Sans', 'Liberation Sans', sans-serif" text-anchor="start" stroke="#000" stroke-width="0.25">2</text>
<text x="246.82" y="293.30" font-size="9.5" font-family="'DejaVu Sans', 'Liberation Sans', sans-serif" text-anchor="start" textLength="10.6" lengthAdjust="spacingAndGlyphs" stroke="#000" stroke-width="0.25">10</text>
<text x="261.02" y="286.10" font-size="8.5" font-family="'DejaVu Sans', 'Liberation Sans', sans-serif" text-anchor="start" stroke="#000" stroke-width="0.25">3</text>
<text transform="translate(173.80,211.78) rotate(-90)" font-size="9.5" font-family="'DejaVu Sans', 'Liberation Sans', sans-serif" text-anchor="start" textLength="10.6" lengthAdjust="spacingAndGlyphs" stroke="#000" stroke-width="0.25">10</text>
<text transform="translate(166.60,198.58) rotate(-90)" font-size="8.5" font-family="'DejaVu Sans', 'Liberation Sans', sans-serif" text-anchor="start" stroke="#000" stroke-width="0.25">3</text>
<text x="268.20" y="293.30" font-size="9.5" font-family="'DejaVu Sans', 'Liberation Sans', sans-serif" text-anchor="start" textLength="10.6" lengthAdjust="spacingAndGlyphs" stroke="#000" stroke-width="0.25">10</text>
<text x="282.40" y="286.10" font-size="8.5" font-family="'DejaVu Sans', 'Liberation Sans', sans-serif" text-anchor="start" stroke="#000" stroke-width="0.25">4</text>
<text transform="translate(173.80,188.00) rotate(-90)" font-size="9.5" font-family="'DejaVu Sans', 'Liberation Sans', sans-serif" text-anchor="start" textLength="10.6" lengthAdjust="spacingAndGlyphs" stroke="#000" stroke-width="0.25">10</text>
<text transform="translate(166.60,174.80) rotate(-90)" font-size="8.5" font-family="'DejaVu Sans', 'Liberation Sans', sans-serif" text-anchor="start" stroke="#000" stroke-width="0.25">4</text>
<text x="240.20" y="194.80" font-size="13" font-family="'DejaVu Sans', 'Liberation Sans', sans-serif" text-anchor="start" textLength="34" lengthAdjust="spacingAndGlyphs">2986</text>
<text x="244.00" y="269.20" font-size="13" font-family="'DejaVu Sans', 'Liberation Sans', sans-serif" text-anchor="start" textLength="30" lengthAdjust="spacingAndGlyphs">1201</text>
<path d="M247.85 340.85h1.3v1.3h-1.3zM243.85 341.85h1.3v1.3h-1.3zM237.85 342.85h1.3v1.3h-1.3zM237.85 343.85h1.3v1.3h-1.3zM242.85 343.85h1.3v1.3h-1.3zM234.85 344.85h1.3v1.3h-1.3zM241.85 344.85h1.3v1.3h-1.3zM247.85 344.85h1.3v1.3h-1.3zM249.85 344.85h1.3v1.3h-1.3zM235.85 345.85h1.3v1.3h-1.3zM239.85 345.85h1.3v1.3h-1.3zM243.85 345.85h1.3v1.3h-1.3zM247.85 345.85h1.3v1.3h-1.3zM259.85 345.85h1.3v1.3h-1.3zM233.85 346.85h1.3v1.3h-1.3zM240.85 346.85h1.3v1.3h-1.3zM244.85 346.85h1.3v1.3h-1.3zM246.85 346.85h1.3v1.3h-1.3zM236.85 347.85h1.3v1.3h-1.3zM239.85 347.85h2.3v1.3h-2.3zM248.85 347.85h1.3v1.3h-1.3zM240.85 348.85h1.3v1.3h-1.3zM231.85 349.85h1.3v1.3h-1.3zM238.85 349.85h1.3v1.3h-1.3zM241.85 349.85h1.3v1.3h-1.3zM230.85 350.85h1.3v1.3h-1.3zM235.85 350.85h1.3v1.3h-1.3zM239.85 350.85h1.3v1.3h-1.3zM241.85 350.85h1.3v1.3h-1.3zM248.85 350.85h1.3v1.3h-1.3zM234.85 351.85h9.3v1.3h-9.3zM232.85 352.85h1.3v1.3h-1.3zM235.85 352.85h1.3v1.3h-1.3zM238.85 352.85h1.3v1.3h-1.3zM240.85 352.85h3.3v1.3h-3.3zM244.85 352.85h1.3v1.3h-1.3zM249.85 352.85h1.3v1.3h-1.3zM232.85 353.85h1.3v1.3h-1.3zM234.85 353.85h7.3v1.3h-7.3zM245.85 353.85h1.3v1.3h-1.3zM233.85 354.85h7.3v1.3h-7.3zM244.85 354.85h1.3v1.3h-1.3zM234.85 355.85h6.3v1.3h-6.3zM243.85 355.85h1.3v1.3h-1.3zM246.85 355.85h1.3v1.3h-1.3zM227.85 356.85h1.3v1.3h-1.3zM232.85 356.85h6.3v1.3h-6.3zM240.85 356.85h1.3v1.3h-1.3zM243.85 356.85h1.3v1.3h-1.3zM250.85 356.85h1.3v1.3h-1.3zM231.85 357.85h2.3v1.3h-2.3zM235.85 357.85h5.3v1.3h-5.3zM241.85 357.85h2.3v1.3h-2.3zM245.85 357.85h1.3v1.3h-1.3zM230.85 358.85h9.3v1.3h-9.3zM240.85 358.85h2.3v1.3h-2.3zM232.85 359.85h2.3v1.3h-2.3zM235.85 359.85h3.3v1.3h-3.3zM239.85 359.85h3.3v1.3h-3.3zM229.85 360.85h1.3v1.3h-1.3zM231.85 360.85h9.3v1.3h-9.3zM241.85 360.85h1.3v1.3h-1.3zM249.85 360.85h1.3v1.3h-1.3zM230.85 361.85h1.3v1.3h-1.3zM232.85 361.85h6.3v1.3h-6.3zM239.85 361.85h2.3v1.3h-2.3zM242.85 361.85h2.3v1.3h-2.3zM245.85 361.85h1.3v1.3h-1.3zM219.85 362.85h1.3v1.3h-1.3zM230.85 362.85h5.3v1.3h-5.3zM236.85 362.85h4.3v1.3h-4.3zM227.85 363.85h1.3v1.3h-1.3zM231.85 363.85h1.3v1.3h-1.3zM234.85 363.85h2.3v1.3h-2.3zM237.85 363.85h4.3v1.3h-4.3zM230.85 364.85h1.3v1.3h-1.3zM233.85 364.85h4.3v1.3h-4.3zM238.85 364.85h2.3v1.3h-2.3zM246.85 364.85h1.3v1.3h-1.3zM226.85 365.85h1.3v1.3h-1.3zM228.85 365.85h2.3v1.3h-2.3zM231.85 365.85h1.3v1.3h-1.3zM233.85 365.85h6.3v1.3h-6.3zM243.85 365.85h1.3v1.3h-1.3zM229.85 366.85h1.3v1.3h-1.3zM234.85 366.85h1.3v1.3h-1.3zM236.85 366.85h2.3v1.3h-2.3zM240.85 366.85h1.3v1.3h-1.3zM248.85 366.85h1.3v1.3h-1.3zM230.85 367.85h1.3v1.3h-1.3zM232.85 367.85h1.3v1.3h-1.3zM234.85 367.85h2.3v1.3h-2.3zM239.85 367.85h1.3v1.3h-1.3zM232.85 368.85h1.3v1.3h-1.3zM234.85 368.85h4.3v1.3h-4.3zM239.85 368.85h1.3v1.3h-1.3zM242.85 368.85h1.3v1.3h-1.3zM233.85 369.85h3.3v1.3h-3.3zM237.85 369.85h1.3v1.3h-1.3zM232.85 370.85h3.3v1.3h-3.3zM232.85 371.85h1.3v1.3h-1.3zM235.85 371.85h1.3v1.3h-1.3zM223.85 372.85h1.3v1.3h-1.3zM242.85 372.85h1.3v1.3h-1.3zM235.85 374.85h1.3v1.3h-1.3zM217.85 377.85h1.3v1.3h-1.3zM234.85 377.85h1.3v1.3h-1.3zM233.85 383.85h1.3v1.3h-1.3zM236.85 383.85h1.3v1.3h-1.3zM244.85 383.85h1.3v1.3h-1.3zM247.85 383.85h1.3v1.3h-1.3zM238.85 384.85h1.3v1.3h-1.3zM244.85 384.85h1.3v1.3h-1.3zM239.85 385.85h1.3v1.3h-1.3zM252.85 385.85h1.3v1.3h-1.3zM223.85 386.85h1.3v1.3h-1.3zM242.85 386.85h1.3v1.3h-1.3zM248.85 386.85h1.3v1.3h-1.3zM202.85 387.85h1.3v1.3h-1.3zM239.85 387.85h1.3v1.3h-1.3zM224.85 388.85h1.3v1.3h-1.3zM232.85 388.85h1.3v1.3h-1.3zM235.85 388.85h1.3v1.3h-1.3zM239.85 388.85h1.3v1.3h-1.3zM242.85 388.85h1.3v1.3h-1.3zM227.85 389.85h1.3v1.3h-1.3zM233.85 389.85h1.3v1.3h-1.3zM235.85 389.85h2.3v1.3h-2.3zM239.85 389.85h1.3v1.3h-1.3zM244.85 389.85h2.3v1.3h-2.3zM242.85 390.85h1.3v1.3h-1.3zM226.85 391.85h1.3v1.3h-1.3zM237.85 391.85h3.3v1.3h-3.3zM241.85 391.85h1.3v1.3h-1.3zM209.85 392.85h1.3v1.3h-1.3zM231.85 392.85h1.3v1.3h-1.3zM234.85 392.85h1.3v1.3h-1.3zM240.85 392.85h1.3v1.3h-1.3zM238.85 393.85h1.3v1.3h-1.3zM231.85 394.85h1.3v1.3h-1.3zM237.85 394.85h2.3v1.3h-2.3zM244.85 394.85h1.3v1.3h-1.3zM225.85 395.85h1.3v1.3h-1.3zM235.85 395.85h2.3v1.3h-2.3zM242.85 395.85h1.3v1.3h-1.3zM253.85 395.85h1.3v1.3h-1.3zM225.85 396.85h1.3v1.3h-1.3zM238.85 396.85h2.3v1.3h-2.3zM242.85 396.85h1.3v1.3h-1.3zM244.85 396.85h1.3v1.3h-1.3zM225.85 397.85h1.3v1.3h-1.3zM231.85 397.85h1.3v1.3h-1.3zM235.85 397.85h3.3v1.3h-3.3zM240.85 397.85h1.3v1.3h-1.3zM245.85 397.85h1.3v1.3h-1.3zM225.85 398.85h1.3v1.3h-1.3zM237.85 398.85h1.3v1.3h-1.3zM239.85 398.85h2.3v1.3h-2.3zM243.85 398.85h1.3v1.3h-1.3zM214.85 399.85h1.3v1.3h-1.3zM240.85 399.85h1.3v1.3h-1.3zM235.85 400.85h1.3v1.3h-1.3zM240.85 400.85h1.3v1.3h-1.3zM244.85 400.85h1.3v1.3h-1.3zM242.85 401.85h1.3v1.3h-1.3zM245.85 401.85h1.3v1.3h-1.3zM227.85 402.85h1.3v1.3h-1.3zM233.85 402.85h1.3v1.3h-1.3zM225.85 403.85h1.3v1.3h-1.3zM236.85 403.85h1.3v1.3h-1.3zM236.85 404.85h1.3v1.3h-1.3zM238.85 404.85h2.3v1.3h-2.3zM227.85 406.85h1.3v1.3h-1.3zM241.85 406.85h1.3v1.3h-1.3zM244.85 408.85h1.3v1.3h-1.3zM236.85 410.85h1.3v1.3h-1.3zM234.85 411.85h1.3v1.3h-1.3z" fill="#000"/>
<rect x="184.30" y="319.20" width="93.30" height="95.80" fill="none" stroke="#000" stroke-width="1.6"/>
<line x1="221.40" y1="319.20" x2="221.40" y2="415.00" stroke="#000" stroke-width="1.5"/>
<line x1="184.30" y1="382.30" x2="277.60" y2="382.30" stroke="#000" stroke-width="1.5"/>
<path d="M184.30 415.00h-5.5M184.30 415.00v5.5M184.30 407.79h-3.5M191.32 415.00v3.5M184.30 403.57h-3.5M195.43 415.00v3.5M184.30 400.58h-3.5M198.34 415.00v3.5M184.30 398.26h-3.5M200.60 415.00v3.5M184.30 396.36h-3.5M202.45 415.00v3.5M184.30 394.76h-3.5M204.01 415.00v3.5M184.30 393.37h-3.5M205.36 415.00v3.5M184.30 392.15h-3.5M206.56 415.00v3.5M184.30 391.05h-5.5M207.62 415.00v5.5M184.30 383.84h-3.5M214.65 415.00v3.5M184.30 379.62h-3.5M218.75 415.00v3.5M184.30 376.63h-3.5M221.67 415.00v3.5M184.30 374.31h-3.5M223.93 415.00v3.5M184.30 372.41h-3.5M225.78 415.00v3.5M184.30 370.81h-3.5M227.34 415.00v3.5M184.30 369.42h-3.5M228.69 415.00v3.5M184.30 368.20h-3.5M229.88 415.00v3.5M184.30 367.10h-5.5M230.95 415.00v5.5M184.30 359.89h-3.5M237.97 415.00v3.5M184.30 355.67h-3.5M242.08 415.00v3.5M184.30 352.68h-3.5M244.99 415.00v3.5M184.30 350.36h-3.5M247.25 415.00v3.5M184.30 348.46h-3.5M249.10 415.00v3.5M184.30 346.86h-3.5M250.66 415.00v3.5M184.30 345.47h-3.5M252.01 415.00v3.5M184.30 344.25h-3.5M253.21 415.00v3.5M184.30 343.15h-5.5M254.28 415.00v5.5M184.30 335.94h-3.5M261.30 415.00v3.5M184.30 331.72h-3.5M265.40 415.00v3.5M184.30 328.73h-3.5M268.32 415.00v3.5M184.30 326.41h-3.5M270.58 415.00v3.5M184.30 324.51h-3.5M272.43 415.00v3.5M184.30 322.91h-3.5M273.99 415.00v3.5M184.30 321.52h-3.5M275.34 415.00v3.5M184.30 320.30h-3.5M276.53 415.00v3.5M184.30 319.20h-5.5M277.60 415.00v5.5" stroke="#000" stroke-width="1.3" fill="none"/>
<text x="176.30" y="434.80" font-size="9.5" font-family="'DejaVu Sans', 'Liberation Sans', sans-serif" text-anchor="start" textLength="10.6" lengthAdjust="spacingAndGlyphs" stroke="#000" stroke-width="0.25">10</text>
<text x="190.50" y="427.60" font-size="8.5" font-family="'DejaVu Sans', 'Liberation Sans', sans-serif" text-anchor="start" stroke="#000" stroke-width="0.25">0</text>
<text transform="translate(172.80,424.60) rotate(-90)" font-size="9.5" font-family="'DejaVu Sans', 'Liberation Sans', sans-serif" text-anchor="start" textLength="10.6" lengthAdjust="spacingAndGlyphs" stroke="#000" stroke-width="0.25">10</text>
<text transform="translate(165.60,411.40) rotate(-90)" font-size="8.5" font-family="'DejaVu Sans', 'Liberation Sans', sans-serif" text-anchor="start" stroke="#000" stroke-width="0.25">0</text>
<text x="199.62" y="434.80" font-size="9.5" font-family="'DejaVu Sans', 'Liberation Sans', sans-serif" text-anchor="start" textLength="10.6" lengthAdjust="spacingAndGlyphs" stroke="#000" stroke-width="0.25">10</text>
<text x="213.82" y="427.60" font-size="8.5" font-family="'DejaVu Sans', 'Liberation Sans', sans-serif" text-anchor="start" stroke="#000" stroke-width="0.25">1</text>
<text transform="translate(172.80,400.65) rotate(-90)" font-size="9.5" font-family="'DejaVu Sans', 'Liberation Sans', sans-serif" text-anchor="start" textLength="10.6" lengthAdjust="spacingAndGlyphs" stroke="#000" stroke-width="0.25">10</text>
<text transform="translate(165.60,387.45) rotate(-90)" font-size="8.5" font-family="'DejaVu Sans', 'Liberation Sans', sans-serif" text-anchor="start" stroke="#000" stroke-width="0.25">1</text>
<text x="222.95" y="434.80" font-size="9.5" font-family="'DejaVu Sans', 'Liberation Sans', sans-serif" text-anchor="start" textLength="10.6" lengthAdjust="spacingAndGlyphs" stroke="#000" stroke-width="0.25">10</text>
<text x="237.15" y="427.60" font-size="8.5" font-family="'DejaVu Sans', 'Liberation Sans', sans-serif" text-anchor="start" stroke="#000" stroke-width="0.25">2</text>
<text transform="translate(172.80,376.70) rotate(-90)" font-size="9.5" font-family="'DejaVu Sans', 'Liberation Sans', sans-serif" text-anchor="start" textLength="10.6" lengthAdjust="spacingAndGlyphs" stroke="#000" stroke-width="0.25">10</text>
<text transform="translate(165.60,363.50) rotate(-90)" font-size="8.5" font-family="'DejaVu Sans', 'Liberation Sans', sans-serif" text-anchor="start" stroke="#000" stroke-width="0.25">2</text>
<text x="246.28" y="434.80" font-size="9.5" font-family="'DejaVu Sans', 'Liberation Sans', sans-serif" text-anchor="start" textLength="10.6" lengthAdjust="spacingAndGlyphs" stroke="#000" stroke-width="0.25">10</text>
<text x="260.48" y="427.60" font-size="8.5" font-family="'DejaVu Sans', 'Liberation Sans', sans-serif" text-anchor="start" stroke="#000" stroke-width="0.25">3</text>
<text transform="translate(172.80,352.75) rotate(-90)" font-size="9.5" font-family="'DejaVu Sans', 'Liberation Sans', sans-serif" text-anchor="start" textLength="10.6" lengthAdjust="spacingAndGlyphs" stroke="#000" stroke-width="0.25">10</text>
<text transform="translate(165.60,339.55) rotate(-90)" font-size="8.5" font-family="'DejaVu Sans', 'Liberation Sans', sans-serif" text-anchor="start" stroke="#000" stroke-width="0.25">3</text>
<text x="267.80" y="434.80" font-size="9.5" font-family="'DejaVu Sans', 'Liberation Sans', sans-serif" text-anchor="start" textLength="10.6" lengthAdjust="spacingAndGlyphs" stroke="#000" stroke-width="0.25">10</text>
<text x="282.00" y="427.60" font-size="8.5" font-family="'DejaVu Sans', 'Liberation Sans', sans-serif" text-anchor="start" stroke="#000" stroke-width="0.25">4</text>
<text transform="translate(172.80,328.80) rotate(-90)" font-size="9.5" font-family="'DejaVu Sans', 'Liberation Sans', sans-serif" text-anchor="start" textLength="10.6" lengthAdjust="spacingAndGlyphs" stroke="#000" stroke-width="0.25">10</text>
<text transform="translate(165.60,315.60) rotate(-90)" font-size="8.5" font-family="'DejaVu Sans', 'Liberation Sans', sans-serif" text-anchor="start" stroke="#000" stroke-width="0.25">4</text>
<text x="245.00" y="336.80" font-size="13" font-family="'DejaVu Sans', 'Liberation Sans', sans-serif" text-anchor="start" textLength="26" lengthAdjust="spacingAndGlyphs">669</text>
<text x="247.00" y="412.00" font-size="13" font-family="'DejaVu Sans', 'Liberation Sans', sans-serif" text-anchor="start" textLength="25" lengthAdjust="spacingAndGlyphs">308</text>
<path d="M258.85 492.85h1.3v1.3h-1.3zM254.85 494.85h1.3v1.3h-1.3zM246.85 496.85h1.3v1.3h-1.3zM255.85 496.85h1.3v1.3h-1.3zM250.85 497.85h3.3v1.3h-3.3zM258.85 497.85h1.3v1.3h-1.3zM250.85 498.85h1.3v1.3h-1.3zM254.85 498.85h2.3v1.3h-2.3zM244.85 499.85h3.3v1.3h-3.3zM250.85 499.85h1.3v1.3h-1.3zM252.85 499.85h2.3v1.3h-2.3zM255.85 499.85h1.3v1.3h-1.3zM259.85 499.85h1.3v1.3h-1.3zM261.85 499.85h1.3v1.3h-1.3zM254.85 500.85h2.3v1.3h-2.3zM261.85 501.85h1.3v1.3h-1.3zM243.85 502.85h4.3v1.3h-4.3zM248.85 502.85h3.3v1.3h-3.3zM252.85 502.85h2.3v1.3h-2.3zM255.85 502.85h2.3v1.3h-2.3zM260.85 502.85h1.3v1.3h-1.3zM236.85 503.85h1.3v1.3h-1.3zM240.85 503.85h8.3v1.3h-8.3zM249.85 503.85h3.3v1.3h-3.3zM255.85 503.85h1.3v1.3h-1.3zM236.85 504.85h1.3v1.3h-1.3zM239.85 504.85h14.3v1.3h-14.3zM256.85 504.85h1.3v1.3h-1.3zM234.85 505.85h1.3v1.3h-1.3zM238.85 505.85h1.3v1.3h-1.3zM240.85 505.85h14.3v1.3h-14.3zM256.85 505.85h2.3v1.3h-2.3zM234.85 506.85h1.3v1.3h-1.3zM237.85 506.85h5.3v1.3h-5.3zM243.85 506.85h2.3v1.3h-2.3zM246.85 506.85h7.3v1.3h-7.3zM255.85 506.85h1.3v1.3h-1.3zM258.85 506.85h1.3v1.3h-1.3zM227.85 507.85h1.3v1.3h-1.3zM234.85 507.85h1.3v1.3h-1.3zM236.85 507.85h17.3v1.3h-17.3zM254.85 507.85h3.3v1.3h-3.3zM235.85 508.85h1.3v1.3h-1.3zM238.85 508.85h1.3v1.3h-1.3zM241.85 508.85h12.3v1.3h-12.3zM254.85 508.85h1.3v1.3h-1.3zM257.85 508.85h1.3v1.3h-1.3zM231.85 509.85h6.3v1.3h-6.3zM238.85 509.85h15.3v1.3h-15.3zM255.85 509.85h2.3v1.3h-2.3zM228.85 510.85h1.3v1.3h-1.3zM234.85 510.85h3.3v1.3h-3.3zM238.85 510.85h12.3v1.3h-12.3zM251.85 510.85h2.3v1.3h-2.3zM254.85 510.85h3.3v1.3h-3.3zM234.85 511.85h19.3v1.3h-19.3zM255.85 511.85h1.3v1.3h-1.3zM257.85 511.85h1.3v1.3h-1.3zM233.85 512.85h4.3v1.3h-4.3zM238.85 512.85h14.3v1.3h-14.3zM253.85 512.85h1.3v1.3h-1.3zM255.85 512.85h1.3v1.3h-1.3zM230.85 513.85h1.3v1.3h-1.3zM234.85 513.85h18.3v1.3h-18.3zM253.85 513.85h1.3v1.3h-1.3zM256.85 513.85h1.3v1.3h-1.3zM214.85 514.85h1.3v1.3h-1.3zM230.85 514.85h1.3v1.3h-1.3zM233.85 514.85h2.3v1.3h-2.3zM236.85 514.85h16.3v1.3h-16.3zM253.85 514.85h1.3v1.3h-1.3zM256.85 514.85h1.3v1.3h-1.3zM259.85 514.85h2.3v1.3h-2.3zM232.85 515.85h21.3v1.3h-21.3zM254.85 515.85h2.3v1.3h-2.3zM257.85 515.85h3.3v1.3h-3.3zM231.85 516.85h2.3v1.3h-2.3zM234.85 516.85h17.3v1.3h-17.3zM252.85 516.85h1.3v1.3h-1.3zM254.85 516.85h2.3v1.3h-2.3zM257.85 516.85h2.3v1.3h-2.3zM231.85 517.85h10.3v1.3h-10.3zM242.85 517.85h10.3v1.3h-10.3zM253.85 517.85h2.3v1.3h-2.3zM256.85 517.85h1.3v1.3h-1.3zM259.85 517.85h1.3v1.3h-1.3zM218.85 518.85h1.3v1.3h-1.3zM231.85 518.85h6.3v1.3h-6.3zM238.85 518.85h15.3v1.3h-15.3zM255.85 518.85h1.3v1.3h-1.3zM257.85 518.85h1.3v1.3h-1.3zM259.85 518.85h1.3v1.3h-1.3zM230.85 519.85h10.3v1.3h-10.3zM241.85 519.85h7.3v1.3h-7.3zM249.85 519.85h3.3v1.3h-3.3zM253.85 519.85h1.3v1.3h-1.3zM256.85 519.85h1.3v1.3h-1.3zM258.85 519.85h2.3v1.3h-2.3zM215.85 520.85h1.3v1.3h-1.3zM230.85 520.85h21.3v1.3h-21.3zM252.85 520.85h1.3v1.3h-1.3zM254.85 520.85h3.3v1.3h-3.3zM258.85 520.85h2.3v1.3h-2.3zM220.85 521.85h1.3v1.3h-1.3zM227.85 521.85h1.3v1.3h-1.3zM230.85 521.85h17.3v1.3h-17.3zM248.85 521.85h3.3v1.3h-3.3zM252.85 521.85h3.3v1.3h-3.3zM257.85 521.85h1.3v1.3h-1.3zM218.85 522.85h1.3v1.3h-1.3zM227.85 522.85h1.3v1.3h-1.3zM230.85 522.85h12.3v1.3h-12.3zM244.85 522.85h6.3v1.3h-6.3zM251.85 522.85h4.3v1.3h-4.3zM256.85 522.85h1.3v1.3h-1.3zM217.85 523.85h1.3v1.3h-1.3zM224.85 523.85h1.3v1.3h-1.3zM230.85 523.85h13.3v1.3h-13.3zM244.85 523.85h4.3v1.3h-4.3zM249.85 523.85h3.3v1.3h-3.3zM253.85 523.85h3.3v1.3h-3.3zM258.85 523.85h2.3v1.3h-2.3zM230.85 524.85h1.3v1.3h-1.3zM232.85 524.85h4.3v1.3h-4.3zM237.85 524.85h5.3v1.3h-5.3zM243.85 524.85h4.3v1.3h-4.3zM248.85 524.85h2.3v1.3h-2.3zM251.85 524.85h2.3v1.3h-2.3zM254.85 524.85h2.3v1.3h-2.3zM257.85 524.85h2.3v1.3h-2.3zM230.85 525.85h4.3v1.3h-4.3zM235.85 525.85h15.3v1.3h-15.3zM251.85 525.85h2.3v1.3h-2.3zM255.85 525.85h1.3v1.3h-1.3zM257.85 525.85h1.3v1.3h-1.3zM223.85 526.85h2.3v1.3h-2.3zM226.85 526.85h1.3v1.3h-1.3zM230.85 526.85h21.3v1.3h-21.3zM253.85 526.85h4.3v1.3h-4.3zM211.85 527.85h1.3v1.3h-1.3zM229.85 527.85h2.3v1.3h-2.3zM232.85 527.85h14.3v1.3h-14.3zM247.85 527.85h1.3v1.3h-1.3zM249.85 527.85h1.3v1.3h-1.3zM252.85 527.85h2.3v1.3h-2.3zM259.85 527.85h1.3v1.3h-1.3zM228.85 528.85h13.3v1.3h-13.3zM242.85 528.85h9.3v1.3h-9.3zM257.85 528.85h3.3v1.3h-3.3zM224.85 529.85h1.3v1.3h-1.3zM226.85 529.85h1.3v1.3h-1.3zM230.85 529.85h10.3v1.3h-10.3zM241.85 529.85h9.3v1.3h-9.3zM252.85 529.85h2.3v1.3h-2.3zM255.85 529.85h1.3v1.3h-1.3zM258.85 529.85h1.3v1.3h-1.3zM214.85 530.85h1.3v1.3h-1.3zM223.85 530.85h1.3v1.3h-1.3zM229.85 530.85h21.3v1.3h-21.3zM251.85 530.85h1.3v1.3h-1.3zM253.85 530.85h2.3v1.3h-2.3zM259.85 530.85h1.3v1.3h-1.3zM224.85 531.85h1.3v1.3h-1.3zM229.85 531.85h26.3v1.3h-26.3zM256.85 531.85h1.3v1.3h-1.3zM259.85 531.85h1.3v1.3h-1.3zM224.85 532.85h3.3v1.3h-3.3zM229.85 532.85h21.3v1.3h-21.3zM251.85 532.85h3.3v1.3h-3.3zM256.85 532.85h2.3v1.3h-2.3zM259.85 532.85h1.3v1.3h-1.3zM223.85 533.85h1.3v1.3h-1.3zM229.85 533.85h17.3v1.3h-17.3zM247.85 533.85h3.3v1.3h-3.3zM252.85 533.85h2.3v1.3h-2.3zM256.85 533.85h3.3v1.3h-3.3zM224.85 534.85h1.3v1.3h-1.3zM226.85 534.85h1.3v1.3h-1.3zM229.85 534.85h22.3v1.3h-22.3zM252.85 534.85h1.3v1.3h-1.3zM254.85 534.85h1.3v1.3h-1.3zM259.85 534.85h1.3v1.3h-1.3zM224.85 535.85h1.3v1.3h-1.3zM229.85 535.85h3.3v1.3h-3.3zM233.85 535.85h17.3v1.3h-17.3zM252.85 535.85h1.3v1.3h-1.3zM255.85 535.85h2.3v1.3h-2.3zM223.85 536.85h2.3v1.3h-2.3zM227.85 536.85h1.3v1.3h-1.3zM229.85 536.85h12.3v1.3h-12.3zM242.85 536.85h12.3v1.3h-12.3zM255.85 536.85h1.3v1.3h-1.3zM259.85 536.85h1.3v1.3h-1.3zM261.85 536.85h1.3v1.3h-1.3zM224.85 537.85h1.3v1.3h-1.3zM229.85 537.85h23.3v1.3h-23.3zM255.85 537.85h1.3v1.3h-1.3zM257.85 537.85h2.3v1.3h-2.3zM229.85 538.85h18.3v1.3h-18.3zM248.85 538.85h2.3v1.3h-2.3zM252.85 538.85h5.3v1.3h-5.3zM258.85 538.85h2.3v1.3h-2.3zM262.85 538.85h1.3v1.3h-1.3zM229.85 539.85h19.3v1.3h-19.3zM249.85 539.85h1.3v1.3h-1.3zM251.85 539.85h3.3v1.3h-3.3zM255.85 539.85h1.3v1.3h-1.3zM257.85 539.85h1.3v1.3h-1.3zM224.85 540.85h1.3v1.3h-1.3zM229.85 540.85h6.3v1.3h-6.3zM236.85 540.85h9.3v1.3h-9.3zM246.85 540.85h8.3v1.3h-8.3zM222.85 541.85h2.3v1.3h-2.3zM227.85 541.85h1.3v1.3h-1.3zM230.85 541.85h9.3v1.3h-9.3zM240.85 541.85h18.3v1.3h-18.3zM223.85 542.85h1.3v1.3h-1.3zM226.85 542.85h3.3v1.3h-3.3zM230.85 542.85h28.3v1.3h-28.3zM225.85 543.85h1.3v1.3h-1.3zM227.85 543.85h2.3v1.3h-2.3zM230.85 543.85h2.3v1.3h-2.3zM233.85 543.85h12.3v1.3h-12.3zM246.85 543.85h1.3v1.3h-1.3zM248.85 543.85h11.3v1.3h-11.3zM226.85 544.85h2.3v1.3h-2.3zM230.85 544.85h29.3v1.3h-29.3zM213.85 545.85h1.3v1.3h-1.3zM222.85 545.85h3.3v1.3h-3.3zM229.85 545.85h14.3v1.3h-14.3zM244.85 545.85h8.3v1.3h-8.3zM253.85 545.85h6.3v1.3h-6.3zM216.85 546.85h1.3v1.3h-1.3zM222.85 546.85h2.3v1.3h-2.3zM226.85 546.85h3.3v1.3h-3.3zM230.85 546.85h9.3v1.3h-9.3zM240.85 546.85h19.3v1.3h-19.3zM222.85 547.85h1.3v1.3h-1.3zM225.85 547.85h2.3v1.3h-2.3zM230.85 547.85h4.3v1.3h-4.3zM235.85 547.85h1.3v1.3h-1.3zM237.85 547.85h22.3v1.3h-22.3zM225.85 548.85h2.3v1.3h-2.3zM229.85 548.85h10.3v1.3h-10.3zM241.85 548.85h1.3v1.3h-1.3zM243.85 548.85h17.3v1.3h-17.3zM222.85 549.85h1.3v1.3h-1.3zM225.85 549.85h1.3v1.3h-1.3zM228.85 549.85h1.3v1.3h-1.3zM230.85 549.85h30.3v1.3h-30.3zM222.85 550.85h1.3v1.3h-1.3zM226.85 550.85h1.3v1.3h-1.3zM228.85 550.85h31.3v1.3h-31.3zM230.85 551.85h24.3v1.3h-24.3zM255.85 551.85h4.3v1.3h-4.3zM224.85 552.85h2.3v1.3h-2.3zM227.85 552.85h14.3v1.3h-14.3zM242.85 552.85h16.3v1.3h-16.3zM222.85 553.85h1.3v1.3h-1.3zM230.85 553.85h19.3v1.3h-19.3zM250.85 553.85h8.3v1.3h-8.3zM223.85 554.85h4.3v1.3h-4.3zM228.85 554.85h5.3v1.3h-5.3zM234.85 554.85h16.3v1.3h-16.3zM251.85 554.85h5.3v1.3h-5.3zM257.85 554.85h1.3v1.3h-1.3zM226.85 555.85h1.3v1.3h-1.3zM230.85 555.85h27.3v1.3h-27.3zM222.85 556.85h1.3v1.3h-1.3zM225.85 556.85h2.3v1.3h-2.3zM230.85 556.85h6.3v1.3h-6.3zM237.85 556.85h20.3v1.3h-20.3zM224.85 557.85h2.3v1.3h-2.3zM230.85 557.85h13.3v1.3h-13.3zM218.85 558.85h1.3v1.3h-1.3zM226.85 558.85h1.3v1.3h-1.3zM230.85 558.85h8.3v1.3h-8.3zM215.85 559.85h1.3v1.3h-1.3zM223.85 559.85h1.3v1.3h-1.3zM225.85 559.85h1.3v1.3h-1.3zM227.85 559.85h12.3v1.3h-12.3zM224.85 560.85h1.3v1.3h-1.3zM226.85 560.85h1.3v1.3h-1.3zM230.85 560.85h9.3v1.3h-9.3zM228.85 561.85h11.3v1.3h-11.3zM227.85 562.85h1.3v1.3h-1.3zM230.85 562.85h9.3v1.3h-9.3zM224.85 563.85h3.3v1.3h-3.3zM229.85 563.85h10.3v1.3h-10.3zM222.85 564.85h1.3v1.3h-1.3zM225.85 564.85h1.3v1.3h-1.3zM230.85 564.85h1.3v1.3h-1.3zM232.85 564.85h2.3v1.3h-2.3zM235.85 564.85h4.3v1.3h-4.3zM222.85 565.85h1.3v1.3h-1.3zM227.85 565.85h1.3v1.3h-1.3zM230.85 565.85h3.3v1.3h-3.3zM234.85 565.85h5.3v1.3h-5.3zM222.85 566.85h1.3v1.3h-1.3zM224.85 566.85h2.3v1.3h-2.3zM229.85 566.85h10.3v1.3h-10.3zM223.85 567.85h1.3v1.3h-1.3zM226.85 567.85h7.3v1.3h-7.3zM235.85 567.85h4.3v1.3h-4.3zM223.85 568.85h3.3v1.3h-3.3zM228.85 568.85h1.3v1.3h-1.3zM230.85 568.85h9.3v1.3h-9.3zM225.85 569.85h3.3v1.3h-3.3zM230.85 569.85h7.3v1.3h-7.3zM238.85 569.85h1.3v1.3h-1.3zM222.85 570.85h1.3v1.3h-1.3zM224.85 570.85h1.3v1.3h-1.3zM226.85 570.85h1.3v1.3h-1.3zM230.85 570.85h9.3v1.3h-9.3zM222.85 571.85h3.3v1.3h-3.3zM227.85 571.85h1.3v1.3h-1.3zM230.85 571.85h9.3v1.3h-9.3zM222.85 572.85h1.3v1.3h-1.3zM225.85 572.85h2.3v1.3h-2.3zM230.85 572.85h7.3v1.3h-7.3zM238.85 572.85h1.3v1.3h-1.3z" fill="#000"/>
<rect x="240.30" y="558.80" width="37.40" height="16.30" fill="#fff"/>
<rect x="185.40" y="479.80" width="93.00" height="96.00" fill="none" stroke="#000" stroke-width="1.6"/>
<line x1="223.00" y1="479.80" x2="223.00" y2="575.80" stroke="#000" stroke-width="1.5"/>
<line x1="185.40" y1="541.50" x2="278.40" y2="541.50" stroke="#000" stroke-width="1.5"/>
<path d="M185.40 575.80h-5.5M185.40 575.80v5.5M185.40 568.58h-3.5M192.40 575.80v3.5M185.40 564.35h-3.5M196.49 575.80v3.5M185.40 561.35h-3.5M199.40 575.80v3.5M185.40 559.02h-3.5M201.65 575.80v3.5M185.40 557.12h-3.5M203.49 575.80v3.5M185.40 555.52h-3.5M205.05 575.80v3.5M185.40 554.13h-3.5M206.40 575.80v3.5M185.40 552.90h-3.5M207.59 575.80v3.5M185.40 551.80h-5.5M208.65 575.80v5.5M185.40 544.58h-3.5M215.65 575.80v3.5M185.40 540.35h-3.5M219.74 575.80v3.5M185.40 537.35h-3.5M222.65 575.80v3.5M185.40 535.02h-3.5M224.90 575.80v3.5M185.40 533.12h-3.5M226.74 575.80v3.5M185.40 531.52h-3.5M228.30 575.80v3.5M185.40 530.13h-3.5M229.65 575.80v3.5M185.40 528.90h-3.5M230.84 575.80v3.5M185.40 527.80h-5.5M231.90 575.80v5.5M185.40 520.58h-3.5M238.90 575.80v3.5M185.40 516.35h-3.5M242.99 575.80v3.5M185.40 513.35h-3.5M245.90 575.80v3.5M185.40 511.02h-3.5M248.15 575.80v3.5M185.40 509.12h-3.5M249.99 575.80v3.5M185.40 507.52h-3.5M251.55 575.80v3.5M185.40 506.13h-3.5M252.90 575.80v3.5M185.40 504.90h-3.5M254.09 575.80v3.5M185.40 503.80h-5.5M255.15 575.80v5.5M185.40 496.58h-3.5M262.15 575.80v3.5M185.40 492.35h-3.5M266.24 575.80v3.5M185.40 489.35h-3.5M269.15 575.80v3.5M185.40 487.02h-3.5M271.40 575.80v3.5M185.40 485.12h-3.5M273.24 575.80v3.5M185.40 483.52h-3.5M274.80 575.80v3.5M185.40 482.13h-3.5M276.15 575.80v3.5M185.40 480.90h-3.5M277.34 575.80v3.5M185.40 479.80h-5.5M278.40 575.80v5.5" stroke="#000" stroke-width="1.3" fill="none"/>
<text x="177.40" y="595.60" font-size="9.5" font-family="'DejaVu Sans', 'Liberation Sans', sans-serif" text-anchor="start" textLength="10.6" lengthAdjust="spacingAndGlyphs" stroke="#000" stroke-width="0.25">10</text>
<text x="191.60" y="588.40" font-size="8.5" font-family="'DejaVu Sans', 'Liberation Sans', sans-serif" text-anchor="start" stroke="#000" stroke-width="0.25">0</text>
<text transform="translate(173.90,585.40) rotate(-90)" font-size="9.5" font-family="'DejaVu Sans', 'Liberation Sans', sans-serif" text-anchor="start" textLength="10.6" lengthAdjust="spacingAndGlyphs" stroke="#000" stroke-width="0.25">10</text>
<text transform="translate(166.70,572.20) rotate(-90)" font-size="8.5" font-family="'DejaVu Sans', 'Liberation Sans', sans-serif" text-anchor="start" stroke="#000" stroke-width="0.25">0</text>
<text x="200.65" y="595.60" font-size="9.5" font-family="'DejaVu Sans', 'Liberation Sans', sans-serif" text-anchor="start" textLength="10.6" lengthAdjust="spacingAndGlyphs" stroke="#000" stroke-width="0.25">10</text>
<text x="214.85" y="588.40" font-size="8.5" font-family="'DejaVu Sans', 'Liberation Sans', sans-serif" text-anchor="start" stroke="#000" stroke-width="0.25">1</text>
<text transform="translate(173.90,561.40) rotate(-90)" font-size="9.5" font-family="'DejaVu Sans', 'Liberation Sans', sans-serif" text-anchor="start" textLength="10.6" lengthAdjust="spacingAndGlyphs" stroke="#000" stroke-width="0.25">10</text>
<text transform="translate(166.70,548.20) rotate(-90)" font-size="8.5" font-family="'DejaVu Sans', 'Liberation Sans', sans-serif" text-anchor="start" stroke="#000" stroke-width="0.25">1</text>
<text x="223.90" y="595.60" font-size="9.5" font-family="'DejaVu Sans', 'Liberation Sans', sans-serif" text-anchor="start" textLength="10.6" lengthAdjust="spacingAndGlyphs" stroke="#000" stroke-width="0.25">10</text>
<text x="238.10" y="588.40" font-size="8.5" font-family="'DejaVu Sans', 'Liberation Sans', sans-serif" text-anchor="start" stroke="#000" stroke-width="0.25">2</text>
<text transform="translate(173.90,537.40) rotate(-90)" font-size="9.5" font-family="'DejaVu Sans', 'Liberation Sans', sans-serif" text-anchor="start" textLength="10.6" lengthAdjust="spacingAndGlyphs" stroke="#000" stroke-width="0.25">10</text>
<text transform="translate(166.70,524.20) rotate(-90)" font-size="8.5" font-family="'DejaVu Sans', 'Liberation Sans', sans-serif" text-anchor="start" stroke="#000" stroke-width="0.25">2</text>
<text x="247.15" y="595.60" font-size="9.5" font-family="'DejaVu Sans', 'Liberation Sans', sans-serif" text-anchor="start" textLength="10.6" lengthAdjust="spacingAndGlyphs" stroke="#000" stroke-width="0.25">10</text>
<text x="261.35" y="588.40" font-size="8.5" font-family="'DejaVu Sans', 'Liberation Sans', sans-serif" text-anchor="start" stroke="#000" stroke-width="0.25">3</text>
<text transform="translate(173.90,513.40) rotate(-90)" font-size="9.5" font-family="'DejaVu Sans', 'Liberation Sans', sans-serif" text-anchor="start" textLength="10.6" lengthAdjust="spacingAndGlyphs" stroke="#000" stroke-width="0.25">10</text>
<text transform="translate(166.70,500.20) rotate(-90)" font-size="8.5" font-family="'DejaVu Sans', 'Liberation Sans', sans-serif" text-anchor="start" stroke="#000" stroke-width="0.25">3</text>
<text x="268.60" y="595.60" font-size="9.5" font-family="'DejaVu Sans', 'Liberation Sans', sans-serif" text-anchor="start" textLength="10.6" lengthAdjust="spacingAndGlyphs" stroke="#000" stroke-width="0.25">10</text>
<text x="282.80" y="588.40" font-size="8.5" font-family="'DejaVu Sans', 'Liberation Sans', sans-serif" text-anchor="start" stroke="#000" stroke-width="0.25">4</text>
<text transform="translate(173.90,489.40) rotate(-90)" font-size="9.5" font-family="'DejaVu Sans', 'Liberation Sans', sans-serif" text-anchor="start" textLength="10.6" lengthAdjust="spacingAndGlyphs" stroke="#000" stroke-width="0.25">10</text>
<text transform="translate(166.70,476.20) rotate(-90)" font-size="8.5" font-family="'DejaVu Sans', 'Liberation Sans', sans-serif" text-anchor="start" stroke="#000" stroke-width="0.25">4</text>
<text x="237.40" y="495.80" font-size="13" font-family="'DejaVu Sans', 'Liberation Sans', sans-serif" text-anchor="start" textLength="33.5" lengthAdjust="spacingAndGlyphs">6240</text>
<text x="241.00" y="571.20" font-size="13" font-family="'DejaVu Sans', 'Liberation Sans', sans-serif" text-anchor="start" textLength="31" lengthAdjust="spacingAndGlyphs">3002</text>
<rect x="347.20" y="215.00" width="18.40" height="36.20" fill="url(#dsh)" stroke="#000" stroke-width="1.3"/>
<rect x="365.60" y="184.59" width="19.50" height="66.61" fill="url(#hat)" stroke="#000" stroke-width="1.3"/>
<rect x="403.50" y="206.31" width="18.30" height="44.89" fill="url(#dsh)" stroke="#000" stroke-width="1.3"/>
<rect x="421.80" y="178.80" width="19.00" height="72.40" fill="url(#hat)" stroke="#000" stroke-width="1.3"/>
<rect x="459.00" y="230.93" width="20.00" height="20.27" fill="url(#dsh)" stroke="#000" stroke-width="1.3"/>
<rect x="479.00" y="223.69" width="19.30" height="27.51" fill="url(#hat)" stroke="#000" stroke-width="1.3"/>
<path d="M338.30 251.20V106.40H507.80V251.20" fill="none" stroke="#000" stroke-width="1.4"/>
<line x1="332.50" y1="251.20" x2="507.80" y2="251.20" stroke="#000" stroke-width="1.4"/>
<path d="M338.30 251.20h-5.5M338.30 222.24h-5.5M338.30 193.28h-5.5M338.30 164.32h-5.5M338.30 135.36h-5.5M338.30 106.40h-5.5M338.30 236.72h-3.5M338.30 207.76h-3.5M338.30 178.80h-3.5M338.30 149.84h-3.5M338.30 120.88h-3.5M338.30 251.20v3.5M393.50 251.20v4M450.80 251.20v4" stroke="#000" stroke-width="1.2" fill="none"/>
<text x="330.80" y="111.15" font-size="13.3" font-family="'DejaVu Sans', 'Liberation Sans', sans-serif" text-anchor="end">100</text>
<text x="330.80" y="139.28" font-size="13.3" font-family="'DejaVu Sans', 'Liberation Sans', sans-serif" text-anchor="end">80</text>
<text x="330.80" y="167.41" font-size="13.3" font-family="'DejaVu Sans', 'Liberation Sans', sans-serif" text-anchor="end">60</text>
<text x="330.80" y="195.54" font-size="13.3" font-family="'DejaVu Sans', 'Liberation Sans', sans-serif" text-anchor="end">40</text>
<text x="330.80" y="223.67" font-size="13.3" font-family="'DejaVu Sans', 'Liberation Sans', sans-serif" text-anchor="end">20</text>
<text x="330.80" y="251.80" font-size="13.3" font-family="'DejaVu Sans', 'Liberation Sans', sans-serif" text-anchor="end">0</text>
<text transform="translate(362.50,210.00) rotate(-90)" font-size="13.2" font-family="'DejaVu Sans', 'Liberation Sans', sans-serif" text-anchor="start">25</text>
<text transform="translate(379.30,179.59) rotate(-90)" font-size="13.2" font-family="'DejaVu Sans', 'Liberation Sans', sans-serif" text-anchor="start">46</text>
<text transform="translate(420.60,201.31) rotate(-90)" font-size="13.2" font-family="'DejaVu Sans', 'Liberation Sans', sans-serif" text-anchor="start">31</text>
<text transform="translate(437.50,173.80) rotate(-90)" font-size="13.2" font-family="'DejaVu Sans', 'Liberation Sans', sans-serif" text-anchor="start">50</text>
<text transform="translate(475.90,225.93) rotate(-90)" font-size="13.2" font-family="'DejaVu Sans', 'Liberation Sans', sans-serif" text-anchor="start">14</text>
<text transform="translate(493.30,218.69) rotate(-90)" font-size="13.2" font-family="'DejaVu Sans', 'Liberation Sans', sans-serif" text-anchor="start">19</text>
<text x="421.50" y="98.90" font-size="16.5" font-family="'DejaVu Sans', 'Liberation Sans', sans-serif" text-anchor="middle" textLength="63" lengthAdjust="spacingAndGlyphs">Medium</text>
<text transform="translate(302.30,182.10) rotate(-90)" font-size="15.5" font-family="'DejaVu Sans', 'Liberation Sans', sans-serif" text-anchor="middle" textLength="153.4" lengthAdjust="spacingAndGlyphs">% specific migration</text>
<text x="339.00" y="272.30" font-size="16.5" font-family="'DejaVu Sans', 'Liberation Sans', sans-serif" text-anchor="start" textLength="46.2" lengthAdjust="spacingAndGlyphs">CCL 21</text>
<text x="395.20" y="272.30" font-size="16.5" font-family="'DejaVu Sans', 'Liberation Sans', sans-serif" text-anchor="start" textLength="57.79999999999997" lengthAdjust="spacingAndGlyphs">CXCL 12</text>
<text x="460.90" y="272.30" font-size="16.5" font-family="'DejaVu Sans', 'Liberation Sans', sans-serif" text-anchor="start" textLength="59.09999999999998" lengthAdjust="spacingAndGlyphs">CXCL 13</text>
<text x="351.70" y="293.10" font-size="16.5" font-family="'DejaVu Sans', 'Liberation Sans', sans-serif" text-anchor="start" textLength="34.7" lengthAdjust="spacingAndGlyphs">29%</text>
<text x="407.90" y="293.10" font-size="16.5" font-family="'DejaVu Sans', 'Liberation Sans', sans-serif" text-anchor="start" textLength="34.09999999999998" lengthAdjust="spacingAndGlyphs">35%</text>
<text x="471.70" y="293.10" font-size="16.5" font-family="'DejaVu Sans', 'Liberation Sans', sans-serif" text-anchor="start" textLength="31.899999999999988" lengthAdjust="spacingAndGlyphs">15%</text>
<rect x="345.50" y="483.65" width="18.50" height="58.75" fill="url(#dsh)" stroke="#000" stroke-width="1.3"/>
<rect x="364.00" y="453.55" width="20.30" height="88.85" fill="url(#hat)" stroke="#000" stroke-width="1.3"/>
<rect x="403.60" y="470.75" width="18.40" height="71.65" fill="url(#dsh)" stroke="#000" stroke-width="1.3"/>
<rect x="422.00" y="440.66" width="19.40" height="101.74" fill="url(#hat)" stroke="#000" stroke-width="1.3"/>
<rect x="458.60" y="495.11" width="20.40" height="47.29" fill="url(#dsh)" stroke="#000" stroke-width="1.3"/>
<rect x="479.00" y="465.02" width="19.80" height="77.38" fill="url(#hat)" stroke="#000" stroke-width="1.3"/>
<path d="M337.20 542.40V399.10H507.50V542.40" fill="none" stroke="#000" stroke-width="1.4"/>
<line x1="331.50" y1="542.40" x2="507.50" y2="542.40" stroke="#000" stroke-width="1.4"/>
<path d="M337.20 542.40h-5.5M337.20 513.74h-5.5M337.20 485.08h-5.5M337.20 456.42h-5.5M337.20 427.76h-5.5M337.20 399.10h-5.5M337.20 528.07h-3.5M337.20 499.41h-3.5M337.20 470.75h-3.5M337.20 442.09h-3.5M337.20 413.43h-3.5M337.20 542.40v3.5M392.00 542.40v4M449.00 542.40v4" stroke="#000" stroke-width="1.2" fill="none"/>
<text x="327.80" y="405.35" font-size="13.3" font-family="'DejaVu Sans', 'Liberation Sans', sans-serif" text-anchor="end">100</text>
<text x="327.80" y="433.55" font-size="13.3" font-family="'DejaVu Sans', 'Liberation Sans', sans-serif" text-anchor="end">80</text>
<text x="327.80" y="461.75" font-size="13.3" font-family="'DejaVu Sans', 'Liberation Sans', sans-serif" text-anchor="end">60</text>
<text x="327.80" y="489.95" font-size="13.3" font-family="'DejaVu Sans', 'Liberation Sans', sans-serif" text-anchor="end">40</text>
<text x="327.80" y="518.15" font-size="13.3" font-family="'DejaVu Sans', 'Liberation Sans', sans-serif" text-anchor="end">20</text>
<text x="327.80" y="546.35" font-size="13.3" font-family="'DejaVu Sans', 'Liberation Sans', sans-serif" text-anchor="end">0</text>
<text transform="translate(363.20,478.65) rotate(-90)" font-size="13.2" font-family="'DejaVu Sans', 'Liberation Sans', sans-serif" text-anchor="start">41</text>
<text transform="translate(383.20,448.55) rotate(-90)" font-size="13.2" font-family="'DejaVu Sans', 'Liberation Sans', sans-serif" text-anchor="start">62</text>
<text transform="translate(420.50,465.75) rotate(-90)" font-size="13.2" font-family="'DejaVu Sans', 'Liberation Sans', sans-serif" text-anchor="start">50</text>
<text transform="translate(439.20,435.66) rotate(-90)" font-size="13.2" font-family="'DejaVu Sans', 'Liberation Sans', sans-serif" text-anchor="start">71</text>
<text transform="translate(476.30,490.11) rotate(-90)" font-size="13.2" font-family="'DejaVu Sans', 'Liberation Sans', sans-serif" text-anchor="start">33</text>
<text transform="translate(494.80,460.02) rotate(-90)" font-size="13.2" font-family="'DejaVu Sans', 'Liberation Sans', sans-serif" text-anchor="start">54</text>
<text x="429.90" y="393.60" font-size="16.5" font-family="'DejaVu Sans', 'Liberation Sans', sans-serif" text-anchor="middle" textLength="41" lengthAdjust="spacingAndGlyphs">BAFF</text>
<text transform="translate(299.00,473.85) rotate(-90)" font-size="15.5" font-family="'DejaVu Sans', 'Liberation Sans', sans-serif" text-anchor="middle" textLength="153.9" lengthAdjust="spacingAndGlyphs">% specific migration</text>
<text x="336.70" y="565.50" font-size="16.5" font-family="'DejaVu Sans', 'Liberation Sans', sans-serif" text-anchor="start" textLength="46.89999999999999" lengthAdjust="spacingAndGlyphs">CCL 21</text>
<text x="393.40" y="565.50" font-size="16.5" font-family="'DejaVu Sans', 'Liberation Sans', sans-serif" text-anchor="start" textLength="59.59999999999998" lengthAdjust="spacingAndGlyphs">CXCL 12</text>
<text x="459.40" y="565.50" font-size="16.5" font-family="'DejaVu Sans', 'Liberation Sans', sans-serif" text-anchor="start" textLength="58.90000000000005" lengthAdjust="spacingAndGlyphs">CXCL 13</text>
<text x="353.10" y="586.40" font-size="16.5" font-family="'DejaVu Sans', 'Liberation Sans', sans-serif" text-anchor="start" textLength="34.10000000000004" lengthAdjust="spacingAndGlyphs">46%</text>
<text x="411.60" y="586.40" font-size="16.5" font-family="'DejaVu Sans', 'Liberation Sans', sans-serif" text-anchor="start" textLength="30.399999999999988" lengthAdjust="spacingAndGlyphs">55%</text>
<text x="472.40" y="586.40" font-size="16.5" font-family="'DejaVu Sans', 'Liberation Sans', sans-serif" text-anchor="start" textLength="31.2" lengthAdjust="spacingAndGlyphs">43%</text>
<line x1="100.50" y1="752.61" x2="100.50" y2="740.81" stroke="#000" stroke-width="1.3"/>
<line x1="97.50" y1="740.81" x2="103.50" y2="740.81" stroke="#000" stroke-width="1.4"/>
<line x1="112.75" y1="747.33" x2="112.75" y2="721.26" stroke="#000" stroke-width="1.3"/>
<line x1="109.75" y1="721.26" x2="115.75" y2="721.26" stroke="#000" stroke-width="1.4"/>
<line x1="125.55" y1="745.78" x2="125.55" y2="720.02" stroke="#000" stroke-width="1.3"/>
<line x1="122.55" y1="720.02" x2="128.55" y2="720.02" stroke="#000" stroke-width="1.4"/>
<line x1="156.85" y1="746.71" x2="156.85" y2="722.81" stroke="#000" stroke-width="1.3"/>
<line x1="153.85" y1="722.81" x2="159.85" y2="722.81" stroke="#000" stroke-width="1.4"/>
<line x1="169.75" y1="743.92" x2="169.75" y2="715.67" stroke="#000" stroke-width="1.3"/>
<line x1="166.75" y1="715.67" x2="172.75" y2="715.67" stroke="#000" stroke-width="1.4"/>
<line x1="182.00" y1="738.02" x2="182.00" y2="720.95" stroke="#000" stroke-width="1.3"/>
<line x1="179.00" y1="720.95" x2="185.00" y2="720.95" stroke="#000" stroke-width="1.4"/>
<line x1="214.00" y1="717.84" x2="214.00" y2="701.08" stroke="#000" stroke-width="1.3"/>
<line x1="211.00" y1="701.08" x2="217.00" y2="701.08" stroke="#000" stroke-width="1.4"/>
<line x1="226.55" y1="739.57" x2="226.55" y2="722.50" stroke="#000" stroke-width="1.3"/>
<line x1="223.55" y1="722.50" x2="229.55" y2="722.50" stroke="#000" stroke-width="1.4"/>
<line x1="239.40" y1="693.32" x2="239.40" y2="667.87" stroke="#000" stroke-width="1.3"/>
<line x1="236.40" y1="667.87" x2="242.40" y2="667.87" stroke="#000" stroke-width="1.4"/>
<rect x="94.30" y="752.61" width="12.40" height="47.49" fill="#000" stroke="#000" stroke-width="1.3"/>
<rect x="106.70" y="747.33" width="12.10" height="52.77" fill="url(#dsh)" stroke="#000" stroke-width="1.3"/>
<rect x="118.80" y="745.78" width="13.50" height="54.32" fill="url(#hat)" stroke="#000" stroke-width="1.3"/>
<rect x="150.00" y="746.71" width="13.70" height="53.39" fill="#000" stroke="#000" stroke-width="1.3"/>
<rect x="163.70" y="743.92" width="12.10" height="56.18" fill="url(#dsh)" stroke="#000" stroke-width="1.3"/>
<rect x="175.80" y="738.02" width="12.40" height="62.08" fill="url(#hat)" stroke="#000" stroke-width="1.3"/>
<rect x="207.80" y="717.84" width="12.40" height="82.26" fill="#000" stroke="#000" stroke-width="1.3"/>
<rect x="220.20" y="739.57" width="12.70" height="60.53" fill="url(#dsh)" stroke="#000" stroke-width="1.3"/>
<rect x="232.90" y="693.32" width="13.00" height="106.78" fill="url(#hat)" stroke="#000" stroke-width="1.3"/>
<path d="M86 800.1V644.9H256.3V800.1" fill="none" stroke="#000" stroke-width="1.4"/>
<line x1="80.20" y1="800.10" x2="256.30" y2="800.10" stroke="#000" stroke-width="1.5"/>
<path d="M86 800.10h-5.5M86 769.06h-5.5M86 738.02h-5.5M86 706.98h-5.5M86 675.94h-5.5M86 644.90h-5.5M86 784.58h-3.5M86 753.54h-3.5M86 722.50h-3.5M86 691.46h-3.5M86 660.42h-3.5M86 800.1v3.5M143.5 800.1v4M200 800.1v4" stroke="#000" stroke-width="1.2" fill="none"/>
<text x="77.00" y="652.00" font-size="14.8" font-family="'DejaVu Sans', 'Liberation Sans', sans-serif" text-anchor="end">50</text>
<text x="77.00" y="682.26" font-size="14.8" font-family="'DejaVu Sans', 'Liberation Sans', sans-serif" text-anchor="end">40</text>
<text x="77.00" y="712.52" font-size="14.8" font-family="'DejaVu Sans', 'Liberation Sans', sans-serif" text-anchor="end">30</text>
<text x="77.00" y="742.78" font-size="14.8" font-family="'DejaVu Sans', 'Liberation Sans', sans-serif" text-anchor="end">20</text>
<text x="77.00" y="773.04" font-size="14.8" font-family="'DejaVu Sans', 'Liberation Sans', sans-serif" text-anchor="end">10</text>
<text x="77.00" y="803.30" font-size="14.8" font-family="'DejaVu Sans', 'Liberation Sans', sans-serif" text-anchor="end">0</text>
<text x="239.80" y="667.00" font-size="16" font-family="'DejaVu Sans', 'Liberation Sans', sans-serif" text-anchor="middle">*</text>
<text transform="translate(54.40,731.60) rotate(-90)" font-size="15.5" font-family="'DejaVu Sans', 'Liberation Sans', sans-serif" text-anchor="middle" textLength="189.8" lengthAdjust="spacingAndGlyphs">% BAFF-induced increase</text>
<text x="88.90" y="821.30" font-size="16.5" font-family="'DejaVu Sans', 'Liberation Sans', sans-serif" text-anchor="start" textLength="46.000000000000014" lengthAdjust="spacingAndGlyphs">CCL 21</text>
<text x="146.40" y="821.30" font-size="16.5" font-family="'DejaVu Sans', 'Liberation Sans', sans-serif" text-anchor="start" textLength="59.8" lengthAdjust="spacingAndGlyphs">CXCL 12</text>
<text x="210.40" y="821.30" font-size="16.5" font-family="'DejaVu Sans', 'Liberation Sans', sans-serif" text-anchor="start" textLength="57.89999999999999" lengthAdjust="spacingAndGlyphs">CXCL 13</text>
</svg></body></html>
